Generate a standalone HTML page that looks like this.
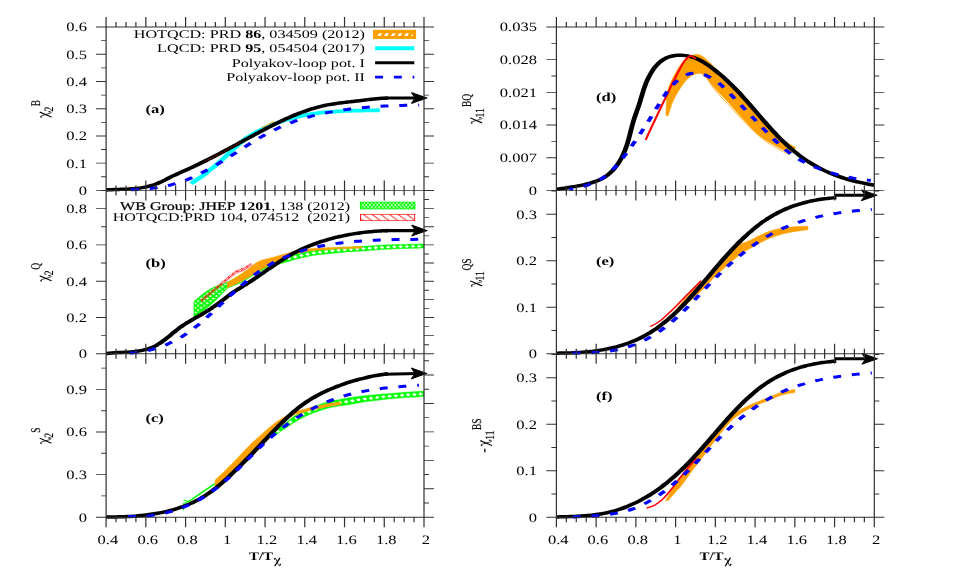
<!DOCTYPE html>
<html><head><meta charset="utf-8"><title>chart</title>
<style>
html,body{margin:0;padding:0;background:#fff;}
body{width:954px;height:572px;overflow:hidden;font-family:"Liberation Serif",serif;}
svg{display:block;opacity:0.999;will-change:opacity}
</style></head><body>
<svg width="954" height="572" viewBox="0 0 954 572">
<rect width="954" height="572" fill="#fff"/>
<defs>
<pattern id="gh" width="4.45" height="4.7" patternUnits="userSpaceOnUse"><rect width="4.45" height="4.7" fill="#fff"/><path d="M-1,-1.056L5.45,5.756M5.45,-1.056L-1,5.756M-1,3.644L1,5.756M3.45,-1.056L5.45,1.056M-1,1.056L1,-1.056M3.45,5.756L5.45,3.644" stroke="#00ff00" stroke-width="1.75"/></pattern>
<pattern id="gh2" width="2.66" height="4.1" patternUnits="userSpaceOnUse"><rect width="2.66" height="4.1" fill="#fff"/><path d="M-1,-1.541L3.66,5.641M3.66,-1.541L-1,5.641" stroke="#00ff00" stroke-width="0.95"/></pattern>
<pattern id="rh" width="6.35" height="6.35" patternUnits="userSpaceOnUse"><path d="M-1,-1L7.35,7.35M-7.35,-1L1,7.35M5.35,-1L13.7,7.35" stroke="#ff0000" stroke-width="0.75"/></pattern>
<pattern id="rh2" width="1.6" height="2" patternUnits="userSpaceOnUse"><path d="M0,0L1.6,2" stroke="#ff0000" stroke-width="0.55"/></pattern>
</defs>
<g transform="scale(1.370,1)">
<path d="M139.43,183.53C139.86,183.16 141.17,182.06 142.03,181.29C142.89,180.53 143.75,179.75 144.59,178.96C145.43,178.17 146.27,177.37 147.10,176.55C147.93,175.73 148.75,174.90 149.56,174.06C150.38,173.21 151.19,172.36 151.99,171.49C152.79,170.63 153.59,169.75 154.38,168.86C155.17,167.98 155.95,167.08 156.73,166.18C157.51,165.27 158.28,164.36 159.05,163.43C159.82,162.51 160.59,161.58 161.35,160.65C162.11,159.71 162.87,158.77 163.62,157.82C164.38,156.87 165.13,155.91 165.88,154.95C166.62,153.99 167.37,153.03 168.11,152.06C168.86,151.10 169.60,150.13 170.35,149.17C171.10,148.21 171.84,147.25 172.60,146.31C173.36,145.37 174.12,144.44 174.90,143.54C175.67,142.63 176.45,141.74 177.25,140.87C178.05,140.01 178.86,139.18 179.69,138.37C180.52,137.57 181.37,136.80 182.22,136.05C183.08,135.30 183.96,134.59 184.84,133.89C185.73,133.19 186.62,132.52 187.53,131.87C188.43,131.22 189.35,130.59 190.26,129.97C191.18,129.36 192.11,128.76 193.04,128.18C193.97,127.59 194.91,127.02 195.85,126.47C196.79,125.91 197.74,125.37 198.69,124.85C199.64,124.33 200.60,123.82 201.56,123.32C202.52,122.83 203.48,122.35 204.45,121.89C205.42,121.43 206.39,120.98 207.36,120.55C208.34,120.12 209.32,119.70 210.30,119.30C211.28,118.91 212.27,118.52 213.26,118.15C214.25,117.79 215.24,117.43 216.23,117.10C217.22,116.76 218.22,116.44 219.22,116.14C220.22,115.84 221.22,115.55 222.22,115.28C223.22,115.01 224.23,114.75 225.23,114.51C226.24,114.27 227.24,114.05 228.25,113.84C229.26,113.63 230.27,113.43 231.28,113.25C232.30,113.06 233.31,112.89 234.32,112.73C235.34,112.58 236.35,112.43 237.37,112.29C238.39,112.16 239.41,112.03 240.42,111.92C241.44,111.80 242.46,111.70 243.48,111.60C244.50,111.50 245.52,111.42 246.55,111.34C247.57,111.26 248.59,111.18 249.61,111.12C250.64,111.05 251.66,110.99 252.68,110.94C253.71,110.89 254.73,110.84 255.75,110.80C256.78,110.75 257.80,110.72 258.83,110.68C259.85,110.65 260.88,110.62 261.90,110.59C262.92,110.56 263.95,110.53 264.97,110.51C265.99,110.48 267.02,110.46 268.04,110.44C269.06,110.41 270.08,110.39 271.11,110.37C272.13,110.35 273.15,110.32 274.17,110.30C275.19,110.27 276.72,110.23 277.23,110.21" fill="none" stroke="#00ffff" stroke-width="3.80" stroke-linecap="butt" stroke-linejoin="round"/>
<path d="M191.24,127.60C192.70,126.57 198.54,122.43 200.00,121.40" fill="none" stroke="#ffa000" stroke-width="0.90" stroke-linecap="butt" stroke-linejoin="round"/>
<path d="M77.47,189.95C77.81,189.92 78.83,189.83 79.52,189.78C80.21,189.73 80.91,189.69 81.60,189.65C82.30,189.61 83.00,189.57 83.70,189.54C84.40,189.51 85.11,189.48 85.81,189.45C86.52,189.41 87.22,189.38 87.93,189.35C88.64,189.32 89.35,189.29 90.06,189.25C90.77,189.21 91.48,189.18 92.19,189.13C92.90,189.09 93.61,189.04 94.32,188.98C95.03,188.93 95.75,188.86 96.45,188.79C97.16,188.72 97.87,188.64 98.58,188.55C99.28,188.46 99.99,188.36 100.69,188.25C101.39,188.13 102.09,188.01 102.79,187.87C103.49,187.73 104.18,187.58 104.87,187.41C105.56,187.24 106.25,187.06 106.94,186.86C107.62,186.66 108.30,186.44 108.98,186.20C109.65,185.96 110.33,185.70 110.99,185.42C111.66,185.14 112.32,184.84 112.98,184.52C113.63,184.20 114.28,183.85 114.93,183.49C115.58,183.13 116.22,182.75 116.86,182.36C117.49,181.96 118.13,181.54 118.76,181.12C119.39,180.70 120.01,180.26 120.64,179.82C121.26,179.38 121.89,178.93 122.51,178.49C123.14,178.05 123.76,177.60 124.39,177.17C125.02,176.74 125.66,176.31 126.29,175.90C126.93,175.48 127.57,175.07 128.21,174.66C128.85,174.26 129.49,173.86 130.14,173.46C130.78,173.06 131.42,172.67 132.07,172.27C132.71,171.88 133.36,171.49 134.01,171.10C134.65,170.71 135.30,170.32 135.94,169.92C136.58,169.53 137.23,169.13 137.87,168.73C138.51,168.33 139.15,167.93 139.79,167.53C140.43,167.12 141.07,166.72 141.71,166.31C142.34,165.90 142.98,165.48 143.61,165.07C144.25,164.65 144.88,164.24 145.51,163.82C146.15,163.40 146.78,162.98 147.41,162.55C148.04,162.13 148.67,161.70 149.30,161.27C149.93,160.85 150.56,160.42 151.18,159.98C151.81,159.55 152.44,159.12 153.06,158.68C153.69,158.25 154.31,157.81 154.94,157.37C155.56,156.93 156.19,156.49 156.81,156.05C157.43,155.61 158.06,155.16 158.68,154.72C159.30,154.27 159.92,153.83 160.54,153.38C161.16,152.93 161.78,152.48 162.40,152.03C163.02,151.58 163.64,151.13 164.26,150.68C164.88,150.23 165.50,149.77 166.12,149.32C166.74,148.86 167.36,148.41 167.98,147.95C168.60,147.50 169.21,147.04 169.83,146.58C170.45,146.13 171.07,145.67 171.69,145.21C172.31,144.75 172.92,144.29 173.54,143.84C174.16,143.38 174.78,142.92 175.40,142.46C176.01,142.00 176.63,141.54 177.25,141.08C177.87,140.62 178.49,140.16 179.11,139.70C179.72,139.24 180.34,138.78 180.96,138.32C181.58,137.86 182.20,137.40 182.82,136.94C183.44,136.48 184.06,136.02 184.68,135.56C185.30,135.10 185.92,134.65 186.55,134.19C187.17,133.73 187.79,133.27 188.41,132.82C189.04,132.36 189.66,131.91 190.28,131.45C190.91,131.00 191.53,130.55 192.16,130.10C192.78,129.65 193.41,129.20 194.03,128.75C194.66,128.30 195.29,127.86 195.92,127.42C196.54,126.97 197.17,126.53 197.80,126.10C198.43,125.66 199.06,125.22 199.69,124.79C200.33,124.36 200.96,123.93 201.59,123.50C202.22,123.08 202.86,122.65 203.49,122.23C204.13,121.81 204.76,121.40 205.40,120.99C206.04,120.57 206.68,120.17 207.32,119.76C207.96,119.36 208.60,118.96 209.24,118.56C209.88,118.17 210.52,117.78 211.17,117.39C211.81,117.01 212.46,116.63 213.10,116.25C213.75,115.88 214.40,115.51 215.05,115.14C215.70,114.78 216.35,114.42 217.00,114.06C217.65,113.71 218.31,113.36 218.96,113.02C219.62,112.68 220.27,112.34 220.93,112.01C221.59,111.68 222.25,111.36 222.91,111.05C223.57,110.73 224.24,110.42 224.90,110.12C225.57,109.82 226.23,109.52 226.90,109.23C227.57,108.95 228.24,108.67 228.91,108.39C229.58,108.12 230.25,107.86 230.93,107.60C231.60,107.35 232.28,107.10 232.96,106.86C233.64,106.62 234.32,106.39 235.00,106.16C235.68,105.94 236.37,105.73 237.05,105.52C237.74,105.31 238.43,105.12 239.12,104.93C239.81,104.75 240.50,104.57 241.20,104.40C241.89,104.23 242.59,104.07 243.29,103.92C243.99,103.77 244.69,103.62 245.39,103.48C246.09,103.35 246.79,103.21 247.49,103.09C248.19,102.96 248.90,102.84 249.60,102.72C250.31,102.60 251.01,102.49 251.71,102.38C252.42,102.26 253.12,102.15 253.83,102.05C254.53,101.94 255.24,101.83 255.94,101.72C256.64,101.62 257.35,101.51 258.05,101.40C258.75,101.29 259.45,101.19 260.15,101.07C260.85,100.96 261.55,100.85 262.25,100.73C262.94,100.62 263.64,100.49 264.34,100.37C265.03,100.25 265.72,100.13 266.42,100.01C267.11,99.89 267.80,99.77 268.50,99.65C269.19,99.53 269.88,99.41 270.58,99.30C271.27,99.19 271.96,99.08 272.66,98.98C273.35,98.88 274.05,98.79 274.75,98.70C275.45,98.61 276.15,98.53 276.85,98.46C277.55,98.39 278.25,98.33 278.96,98.28C279.67,98.23 280.37,98.19 281.09,98.17C281.80,98.15 282.87,98.14 283.23,98.14" fill="none" stroke="#000" stroke-width="3.50" stroke-linecap="butt" stroke-linejoin="round"/>
<path d="M149.64,161.20C150.64,160.50 153.63,158.43 155.69,157.00C157.76,155.57 159.77,154.27 162.04,152.60C164.32,150.93 167.15,148.67 169.34,147.00C171.53,145.33 174.21,143.33 175.18,142.60" fill="none" stroke="#7a1500" stroke-width="1.30" stroke-linecap="butt" stroke-linejoin="round" stroke-dasharray="0.7,0.7" stroke-dashoffset="0.0"/>
<path d="M95.62,189.69C96.32,189.67 98.42,189.63 99.82,189.56C101.23,189.49 102.63,189.39 104.03,189.27C105.44,189.14 106.84,188.98 108.25,188.80C109.65,188.61 111.05,188.39 112.45,188.14C113.84,187.89 115.24,187.60 116.63,187.28C118.02,186.96 119.40,186.60 120.78,186.21C122.16,185.81 123.53,185.38 124.89,184.91C126.25,184.44 127.61,183.93 128.96,183.37C130.30,182.82 131.64,182.22 132.96,181.58C134.29,180.94 135.60,180.25 136.90,179.53C138.20,178.80 139.49,178.01 140.77,177.21C142.04,176.40 143.31,175.55 144.56,174.69C145.82,173.84 147.07,172.96 148.31,172.07C149.55,171.19 150.78,170.29 152.00,169.38C153.23,168.47 154.44,167.54 155.66,166.60C156.87,165.66 158.08,164.70 159.28,163.72C160.48,162.75 161.68,161.75 162.88,160.74C164.08,159.74 165.27,158.71 166.47,157.69C167.66,156.66 168.85,155.62 170.04,154.57C171.23,153.53 172.42,152.48 173.61,151.43C174.80,150.38 176.00,149.33 177.19,148.28C178.38,147.23 179.58,146.19 180.77,145.15C181.97,144.11 183.17,143.08 184.38,142.06C185.58,141.05 186.79,140.04 188.00,139.05C189.22,138.06 190.43,137.08 191.66,136.12C192.88,135.17 194.11,134.23 195.35,133.32C196.59,132.40 197.83,131.51 199.08,130.65C200.34,129.79 201.60,128.96 202.87,128.15C204.14,127.35 205.41,126.58 206.70,125.83C207.99,125.08 209.28,124.36 210.58,123.67C211.88,122.98 213.19,122.31 214.51,121.67C215.82,121.03 217.14,120.41 218.47,119.82C219.80,119.23 221.13,118.67 222.47,118.12C223.81,117.58 225.16,117.06 226.51,116.56C227.86,116.06 229.22,115.59 230.58,115.14C231.95,114.68 233.31,114.25 234.68,113.84C236.06,113.43 237.43,113.03 238.81,112.66C240.19,112.29 241.57,111.93 242.96,111.60C244.35,111.26 245.74,110.94 247.13,110.64C248.52,110.34 249.92,110.06 251.32,109.79C252.72,109.52 254.12,109.27 255.52,109.03C256.92,108.79 258.33,108.57 259.73,108.36C261.14,108.15 262.55,107.96 263.95,107.77C265.36,107.59 266.77,107.42 268.18,107.26C269.59,107.10 271.00,106.96 272.41,106.82C273.82,106.69 275.23,106.56 276.64,106.44C278.05,106.33 279.46,106.22 280.87,106.12C282.27,106.02 283.68,105.93 285.09,105.85C286.49,105.77 287.89,105.69 289.30,105.62C290.70,105.55 292.10,105.49 293.49,105.43C294.89,105.38 296.28,105.32 297.68,105.28C299.07,105.23 300.46,105.18 301.84,105.14C303.22,105.10 305.29,105.04 305.98,105.02" fill="none" stroke="#0000ff" stroke-width="3.00" stroke-linecap="butt" stroke-linejoin="round" stroke-dasharray="5.8,7.9" stroke-dashoffset="0.0"/>
<path d="M280.66,98.00L305.11,98.00" stroke="#000" stroke-width="3.10" fill="none"/>
<path transform="translate(311.90,98.00)" d="M-0.4,0L-11.4,-5.3L-8.6,0L-11.4,5.3Z" fill="#000" stroke="#000" stroke-width="1.0" stroke-linejoin="round"/>
<path d="M141.75,301.50C143.28,299.82 148.39,293.85 150.95,291.40C153.50,288.95 154.64,288.27 157.08,286.80C159.53,285.33 162.55,284.57 165.62,282.60C168.69,280.63 172.57,277.35 175.47,275.00C178.38,272.65 180.41,270.53 183.07,268.50C185.72,266.47 190.00,263.75 191.39,262.80L191.39,270.10C190.78,270.57 189.37,271.65 187.74,272.90C186.11,274.15 183.65,275.98 181.61,277.60C179.56,279.22 178.03,280.87 175.47,282.60C172.92,284.33 168.32,286.47 166.28,288.00C164.23,289.53 164.74,289.77 163.21,291.80C161.68,293.83 159.12,297.53 157.08,300.20C155.04,302.87 153.50,305.00 150.95,307.80C148.39,310.60 143.28,315.47 141.75,317.00Z" fill="url(#gh)" stroke="#00ff00" stroke-width="0.8"/>
<path d="M191.39,262.80C192.87,262.20 196.91,260.42 200.29,259.20C203.67,257.98 208.95,256.37 211.68,255.50C214.40,254.63 213.78,254.83 216.64,254.00C219.50,253.17 224.76,251.43 228.83,250.50C232.91,249.57 237.02,248.93 241.09,248.40C245.17,247.87 248.82,247.68 253.28,247.30C257.75,246.92 263.80,246.45 267.88,246.10C271.97,245.75 274.11,245.45 277.81,245.20C281.51,244.95 284.79,244.80 290.07,244.60C295.35,244.40 306.25,244.10 309.49,244.00L309.49,248.00C306.25,248.13 295.35,248.53 290.07,248.80C284.79,249.07 281.51,249.28 277.81,249.60C274.11,249.92 271.97,250.32 267.88,250.70C263.80,251.08 257.37,251.48 253.28,251.90C249.20,252.32 247.43,252.62 243.36,253.20C239.28,253.78 233.28,254.43 228.83,255.40C224.38,256.37 219.50,258.07 216.64,259.00C213.78,259.93 214.40,259.93 211.68,261.00C208.95,262.07 203.21,264.23 200.29,265.40C197.37,266.57 195.64,267.22 194.16,268.00C192.68,268.78 191.85,269.75 191.39,270.10Z" fill="#00ff00" stroke="#00ff00" stroke-width="0.4"/>
<path d="M191.24,265.60L192.85,264.10L194.45,265.60L192.85,267.10ZM195.77,263.51L197.37,262.01L198.98,263.51L197.37,265.01ZM200.29,261.73L201.90,260.23L203.50,261.73L201.90,263.23ZM204.82,260.12L206.42,258.62L208.03,260.12L206.42,261.62ZM209.34,258.51L210.95,257.01L212.55,258.51L210.95,260.01ZM213.87,256.91L215.47,255.41L217.08,256.91L215.47,258.41ZM218.39,255.52L220.00,254.02L221.61,255.52L220.00,257.02ZM222.92,254.20L224.53,252.70L226.13,254.20L224.53,255.70ZM227.45,252.91L229.05,251.41L230.66,252.91L229.05,254.41ZM231.97,252.18L233.58,250.68L235.18,252.18L233.58,253.68ZM236.50,251.45L238.10,249.95L239.71,251.45L238.10,252.95ZM241.02,250.79L242.63,249.29L244.23,250.79L242.63,252.29ZM245.55,250.28L247.15,248.78L248.76,250.28L247.15,251.78ZM250.07,249.78L251.68,248.33L253.28,249.78L251.68,251.22ZM254.60,249.36L256.20,247.93L257.81,249.36L256.20,250.79ZM259.12,248.99L260.73,247.56L262.34,248.99L260.73,250.41ZM263.65,248.62L265.26,247.19L266.86,248.62L265.26,250.04ZM268.18,248.21L269.78,246.79L271.39,248.21L269.78,249.62ZM272.70,247.75L274.31,246.37L275.91,247.75L274.31,249.14ZM277.23,247.34L278.83,245.98L280.44,247.34L278.83,248.70ZM281.75,247.08L283.36,245.75L284.96,247.08L283.36,248.42ZM286.28,246.82L287.88,245.51L289.49,246.82L287.88,248.14ZM290.80,246.62L292.41,245.32L294.01,246.62L292.41,247.91ZM295.33,246.45L296.93,245.17L298.54,246.45L296.93,247.73ZM299.85,246.29L301.46,245.02L303.07,246.29L301.46,247.56ZM304.38,246.13L305.99,244.88L307.59,246.13L305.99,247.38Z" fill="#fff" stroke="#fff" stroke-width="0.25"/>
<path d="M165.99,282.60C167.57,281.27 173.08,276.70 175.47,274.60C177.87,272.50 178.15,272.20 180.36,270.00C182.58,267.80 185.44,263.58 188.76,261.40C192.08,259.22 196.46,258.40 200.29,256.90C204.12,255.40 208.64,253.50 211.75,252.40C214.87,251.30 216.13,250.93 218.98,250.30C221.82,249.67 225.18,249.05 228.83,248.60C232.48,248.15 236.68,247.88 240.88,247.60C245.07,247.32 250.12,247.10 254.01,246.90C257.91,246.70 262.53,246.48 264.23,246.40L264.23,248.10C262.53,248.18 257.91,248.38 254.01,248.60C250.12,248.82 245.07,249.07 240.88,249.40C236.68,249.73 232.48,250.03 228.83,250.60C225.18,251.17 221.84,251.97 218.98,252.80C216.12,253.63 214.79,253.97 211.68,255.60C208.56,257.23 204.08,260.07 200.29,262.60C196.51,265.13 192.09,268.38 188.98,270.80C185.86,273.22 183.86,275.27 181.61,277.10C179.36,278.93 178.08,279.98 175.47,281.80C172.87,283.62 167.57,286.97 165.99,288.00Z" fill="#ffa000" stroke="#ffa000" stroke-width="0.4"/>
<path d="M146.64,299.60C148.88,297.03 155.92,288.90 160.07,284.20C164.22,279.50 168.76,273.95 171.53,271.40C174.31,268.85 174.77,270.27 176.72,268.90C178.66,267.53 182.13,264.15 183.21,263.20L183.65,265.60C182.62,266.52 179.34,269.77 177.45,271.10C175.55,272.43 175.04,271.05 172.26,273.60C169.49,276.15 164.94,281.72 160.80,286.40C156.67,291.08 149.67,299.15 147.45,301.70Z" fill="url(#rh2)" stroke="#ff5050" stroke-width="0.45"/>
<path d="M147.01,300.60C149.25,298.05 156.29,289.98 160.44,285.30C164.59,280.62 168.07,275.98 171.90,272.50C175.73,269.02 181.51,265.75 183.43,264.40" fill="none" stroke="#ff0000" stroke-width="1.30" stroke-linecap="butt" stroke-linejoin="round" stroke-dasharray="0.9,3.4" stroke-dashoffset="0.0"/>
<path d="M77.48,353.47C77.84,353.42 78.88,353.26 79.59,353.17C80.30,353.08 81.01,353.00 81.74,352.93C82.46,352.86 83.19,352.80 83.92,352.75C84.65,352.69 85.39,352.64 86.13,352.59C86.87,352.54 87.61,352.49 88.36,352.45C89.11,352.40 89.86,352.35 90.61,352.30C91.36,352.24 92.11,352.19 92.86,352.13C93.61,352.06 94.36,351.99 95.11,351.91C95.86,351.83 96.61,351.75 97.36,351.65C98.10,351.54 98.85,351.43 99.59,351.30C100.33,351.17 101.06,351.03 101.79,350.86C102.52,350.70 103.25,350.52 103.97,350.31C104.69,350.11 105.41,349.89 106.12,349.64C106.82,349.39 107.53,349.12 108.22,348.82C108.91,348.51 109.59,348.19 110.27,347.83C110.94,347.47 111.61,347.08 112.26,346.66C112.91,346.24 113.56,345.78 114.19,345.30C114.83,344.82 115.45,344.31 116.07,343.78C116.69,343.25 117.29,342.69 117.90,342.12C118.50,341.54 119.10,340.95 119.69,340.34C120.28,339.74 120.86,339.11 121.44,338.49C122.02,337.86 122.60,337.21 123.17,336.57C123.75,335.93 124.32,335.28 124.89,334.63C125.46,333.98 126.02,333.33 126.59,332.69C127.16,332.04 127.73,331.40 128.31,330.77C128.88,330.14 129.46,329.51 130.04,328.90C130.63,328.29 131.22,327.70 131.81,327.12C132.41,326.53 133.01,325.97 133.62,325.41C134.23,324.85 134.84,324.31 135.46,323.77C136.08,323.23 136.70,322.70 137.33,322.18C137.95,321.65 138.58,321.14 139.21,320.62C139.85,320.11 140.48,319.60 141.12,319.10C141.75,318.59 142.39,318.09 143.03,317.59C143.67,317.08 144.31,316.58 144.95,316.08C145.59,315.58 146.23,315.08 146.86,314.57C147.50,314.07 148.14,313.56 148.77,313.05C149.41,312.54 150.04,312.02 150.68,311.50C151.31,310.98 151.93,310.45 152.56,309.92C153.18,309.38 153.81,308.84 154.42,308.29C155.04,307.74 155.65,307.18 156.26,306.60C156.87,306.03 157.47,305.45 158.06,304.85C158.66,304.26 159.25,303.65 159.84,303.04C160.43,302.43 161.01,301.82 161.60,301.20C162.18,300.58 162.76,299.95 163.34,299.33C163.93,298.71 164.51,298.09 165.09,297.47C165.68,296.85 166.26,296.24 166.85,295.64C167.45,295.03 168.04,294.43 168.64,293.85C169.24,293.26 169.84,292.69 170.45,292.13C171.06,291.56 171.68,291.02 172.29,290.47C172.91,289.93 173.54,289.39 174.16,288.86C174.78,288.33 175.41,287.80 176.04,287.28C176.66,286.75 177.29,286.22 177.92,285.70C178.55,285.17 179.17,284.64 179.80,284.10C180.42,283.57 181.04,283.03 181.66,282.48C182.28,281.93 182.89,281.38 183.51,280.83C184.13,280.27 184.74,279.71 185.35,279.15C185.96,278.58 186.57,278.02 187.18,277.45C187.79,276.88 188.40,276.31 189.01,275.73C189.62,275.16 190.22,274.58 190.83,274.01C191.44,273.43 192.04,272.86 192.65,272.28C193.25,271.70 193.86,271.12 194.47,270.55C195.07,269.97 195.68,269.39 196.29,268.82C196.89,268.24 197.50,267.67 198.11,267.10C198.72,266.53 199.33,265.96 199.94,265.39C200.55,264.82 201.16,264.26 201.77,263.70C202.39,263.14 203.00,262.59 203.62,262.04C204.23,261.49 204.85,260.94 205.47,260.40C206.09,259.86 206.72,259.32 207.34,258.79C207.97,258.26 208.60,257.74 209.23,257.22C209.86,256.71 210.49,256.20 211.13,255.70C211.77,255.19 212.41,254.70 213.05,254.22C213.70,253.73 214.34,253.25 214.99,252.79C215.64,252.32 216.30,251.86 216.96,251.41C217.61,250.96 218.28,250.52 218.94,250.08C219.60,249.65 220.27,249.22 220.94,248.80C221.61,248.39 222.28,247.98 222.96,247.58C223.63,247.17 224.31,246.78 224.99,246.40C225.67,246.01 226.36,245.63 227.04,245.27C227.73,244.90 228.42,244.53 229.11,244.18C229.80,243.83 230.49,243.48 231.19,243.14C231.88,242.81 232.58,242.48 233.28,242.15C233.97,241.83 234.67,241.52 235.38,241.21C236.08,240.90 236.78,240.60 237.49,240.31C238.19,240.02 238.90,239.73 239.61,239.45C240.32,239.18 241.03,238.90 241.74,238.64C242.45,238.38 243.16,238.12 243.87,237.87C244.59,237.62 245.30,237.38 246.02,237.15C246.73,236.91 247.45,236.68 248.17,236.46C248.89,236.24 249.61,236.02 250.33,235.82C251.05,235.61 251.77,235.41 252.49,235.21C253.22,235.02 253.94,234.83 254.66,234.65C255.39,234.47 256.11,234.29 256.84,234.12C257.57,233.95 258.29,233.79 259.02,233.63C259.75,233.48 260.48,233.33 261.21,233.18C261.94,233.04 262.67,232.90 263.40,232.77C264.13,232.64 264.86,232.51 265.59,232.39C266.32,232.28 267.05,232.16 267.79,232.05C268.52,231.95 269.25,231.84 269.99,231.75C270.72,231.65 271.45,231.56 272.19,231.47C272.92,231.39 273.66,231.31 274.39,231.23C275.12,231.16 275.86,231.09 276.59,231.03C277.33,230.96 278.06,230.91 278.80,230.85C279.53,230.80 280.27,230.75 281.00,230.71C281.74,230.67 282.84,230.62 283.21,230.60" fill="none" stroke="#000" stroke-width="3.50" stroke-linecap="butt" stroke-linejoin="round"/>
<path d="M94.61,353.11C95.29,353.03 97.34,352.84 98.70,352.63C100.05,352.43 101.41,352.18 102.75,351.88C104.09,351.59 105.43,351.25 106.76,350.87C108.08,350.48 109.40,350.05 110.71,349.58C112.02,349.11 113.32,348.59 114.60,348.04C115.89,347.48 117.16,346.88 118.43,346.24C119.69,345.60 120.94,344.91 122.17,344.19C123.40,343.46 124.62,342.70 125.83,341.89C127.03,341.09 128.22,340.24 129.39,339.35C130.56,338.47 131.72,337.54 132.85,336.58C133.99,335.62 135.11,334.62 136.21,333.59C137.32,332.56 138.41,331.49 139.48,330.40C140.56,329.31 141.62,328.19 142.67,327.05C143.73,325.91 144.77,324.74 145.80,323.55C146.83,322.37 147.85,321.16 148.87,319.95C149.89,318.73 150.89,317.50 151.90,316.26C152.90,315.02 153.90,313.76 154.89,312.50C155.89,311.25 156.87,309.98 157.86,308.71C158.85,307.44 159.84,306.16 160.82,304.89C161.81,303.61 162.79,302.33 163.77,301.06C164.76,299.79 165.74,298.51 166.73,297.24C167.72,295.97 168.71,294.71 169.70,293.45C170.69,292.19 171.69,290.94 172.69,289.71C173.70,288.47 174.70,287.24 175.72,286.02C176.73,284.81 177.75,283.61 178.78,282.42C179.81,281.24 180.85,280.07 181.90,278.92C182.94,277.77 184.00,276.64 185.07,275.53C186.14,274.43 187.22,273.34 188.31,272.28C189.40,271.22 190.51,270.19 191.63,269.18C192.75,268.18 193.88,267.20 195.03,266.25C196.18,265.30 197.34,264.38 198.52,263.50C199.70,262.61 200.89,261.75 202.09,260.92C203.29,260.09 204.51,259.29 205.73,258.52C206.96,257.75 208.19,257.00 209.44,256.29C210.68,255.57 211.94,254.89 213.20,254.23C214.47,253.58 215.74,252.95 217.02,252.35C218.30,251.75 219.59,251.18 220.88,250.63C222.17,250.09 223.47,249.57 224.78,249.08C226.08,248.60 227.39,248.14 228.70,247.70C230.01,247.27 231.33,246.87 232.65,246.48C233.97,246.10 235.29,245.75 236.62,245.42C237.94,245.08 239.27,244.77 240.60,244.48C241.93,244.19 243.26,243.92 244.60,243.67C245.93,243.42 247.27,243.18 248.60,242.96C249.94,242.74 251.28,242.54 252.62,242.35C253.96,242.16 255.30,241.99 256.64,241.82C257.98,241.65 259.33,241.50 260.67,241.36C262.01,241.21 263.35,241.08 264.70,240.96C266.04,240.84 267.38,240.72 268.73,240.62C270.07,240.52 271.42,240.42 272.76,240.33C274.11,240.25 275.45,240.17 276.80,240.10C278.14,240.02 279.49,239.96 280.84,239.90C282.18,239.84 283.53,239.79 284.88,239.74C286.22,239.70 287.57,239.66 288.92,239.62C290.26,239.58 291.61,239.55 292.96,239.52C294.31,239.49 295.65,239.47 297.00,239.45C298.35,239.42 299.69,239.40 301.04,239.39C302.39,239.37 303.74,239.35 305.08,239.34C306.43,239.32 308.45,239.30 309.12,239.30" fill="none" stroke="#0000ff" stroke-width="3.00" stroke-linecap="butt" stroke-linejoin="round" stroke-dasharray="5.8,7.9" stroke-dashoffset="0.0"/>
<path d="M280.73,230.60L305.11,230.60" stroke="#000" stroke-width="3.10" fill="none"/>
<path transform="translate(312.12,230.60)" d="M-0.4,0L-11.4,-5.3L-8.6,0L-11.4,5.3Z" fill="#000" stroke="#000" stroke-width="1.0" stroke-linejoin="round"/>
<path d="M200.00,433.40C200.54,432.67 201.65,430.90 203.21,429.00C204.77,427.10 207.30,424.23 209.34,422.00C211.39,419.77 213.43,417.43 215.47,415.60C217.52,413.77 219.56,412.40 221.61,411.00C223.65,409.60 225.69,408.33 227.74,407.20C229.78,406.07 231.82,405.12 233.87,404.20C235.91,403.28 237.62,402.50 240.00,401.70C242.38,400.90 245.60,400.07 248.18,399.40C250.75,398.73 252.21,398.33 255.47,397.70C258.73,397.07 263.65,396.22 267.74,395.60C271.82,394.98 275.96,394.48 280.00,394.00C284.04,393.52 287.06,393.18 291.97,392.70C296.89,392.22 306.57,391.37 309.49,391.10L309.49,396.50C306.57,396.75 296.89,397.50 291.97,398.00C287.06,398.50 284.04,398.90 280.00,399.50C275.96,400.10 271.82,400.78 267.74,401.60C263.65,402.42 258.73,403.70 255.47,404.40C252.21,405.10 250.75,405.20 248.18,405.80C245.60,406.40 242.38,407.22 240.00,408.00C237.62,408.78 235.91,409.58 233.87,410.50C231.82,411.42 229.78,412.37 227.74,413.50C225.69,414.63 223.65,415.90 221.61,417.30C219.56,418.70 217.27,420.45 215.47,421.90C213.67,423.35 212.34,424.65 210.80,426.00C209.27,427.35 207.83,428.53 206.28,430.00C204.72,431.47 202.26,434.00 201.46,434.80Z" fill="#00ff00" stroke="#00ff00" stroke-width="0.4"/>
<path d="M201.31,431.37L202.92,430.15L204.53,431.37L202.92,432.60ZM205.84,426.57L207.45,425.08L209.05,426.57L207.45,428.06ZM210.36,422.12L211.97,420.62L213.58,422.12L211.97,423.62ZM214.89,417.98L216.50,416.48L218.10,417.98L216.50,419.48ZM219.42,414.59L221.02,413.09L222.63,414.59L221.02,416.09ZM223.94,411.71L225.55,410.21L227.15,411.71L225.55,413.21ZM228.47,409.21L230.07,407.71L231.68,409.21L230.07,410.71ZM232.99,407.05L234.60,405.55L236.20,407.05L234.60,408.55ZM237.52,405.21L239.12,403.71L240.73,405.21L239.12,406.71ZM242.04,403.85L243.65,402.35L245.26,403.85L243.65,405.35ZM246.57,402.60L248.18,401.10L249.78,402.60L248.18,404.10ZM251.09,401.64L252.70,400.14L254.31,401.64L252.70,403.14ZM255.62,400.70L257.23,399.20L258.83,400.70L257.23,402.20ZM260.15,399.80L261.75,398.30L263.36,399.80L261.75,401.30ZM264.67,398.89L266.28,397.39L267.88,398.89L266.28,400.39ZM269.20,398.14L270.80,396.64L272.41,398.14L270.80,399.64ZM273.72,397.45L275.33,395.95L276.93,397.45L275.33,398.95ZM278.25,396.77L279.85,395.27L281.46,396.77L279.85,398.27ZM282.77,396.24L284.38,394.74L285.99,396.24L284.38,397.74ZM287.30,395.71L288.91,394.21L290.51,395.71L288.91,397.21ZM291.82,395.22L293.43,393.72L295.04,395.22L293.43,396.72ZM296.35,394.82L297.96,393.32L299.56,394.82L297.96,396.32ZM300.88,394.42L302.48,392.92L304.09,394.42L302.48,395.92ZM305.40,394.02L307.01,392.52L308.61,394.02L307.01,395.52Z" fill="#fff" stroke="#fff" stroke-width="0.25"/>
<path d="M134.01,500.00L137.66,501.40L134.01,503.50L134.01,510.60" fill="none" stroke="#00ff00" stroke-width="0.9"/>
<path d="M137.66,501.60C139.05,500.30 142.74,496.83 145.99,493.80C149.23,490.77 155.29,485.13 157.15,483.40" fill="none" stroke="#00ff00" stroke-width="1.40" stroke-linecap="butt" stroke-linejoin="round"/>
<path d="M157.01,480.00C158.05,478.67 160.91,475.15 163.28,472.00C165.66,468.85 168.38,465.15 171.24,461.10C174.10,457.05 177.37,451.90 180.44,447.70C183.50,443.50 186.57,439.68 189.64,435.90C192.70,432.12 196.37,427.73 198.83,425.00C201.29,422.27 202.60,421.07 204.38,419.50C206.16,417.93 207.64,416.90 209.49,415.60C211.34,414.30 213.45,412.70 215.47,411.70C217.49,410.70 219.56,410.38 221.61,409.60C223.65,408.82 225.69,407.70 227.74,407.00C229.78,406.30 231.82,405.95 233.87,405.40C235.91,404.85 237.55,404.27 240.00,403.70C242.45,403.13 247.12,402.28 248.54,402.00L248.54,404.80C247.12,405.08 242.45,405.93 240.00,406.50C237.55,407.07 235.91,407.65 233.87,408.20C231.82,408.75 229.78,409.10 227.74,409.80C225.69,410.50 223.65,411.62 221.61,412.40C219.56,413.18 217.49,413.32 215.47,414.50C213.45,415.68 211.34,417.83 209.49,419.50C207.64,421.17 206.16,422.50 204.38,424.50C202.60,426.50 201.29,428.17 198.83,431.50C196.37,434.83 192.70,440.25 189.64,444.50C186.57,448.75 183.50,452.92 180.44,457.00C177.37,461.08 174.10,465.17 171.24,469.00C168.38,472.83 165.66,477.08 163.28,480.00C160.91,482.92 158.05,485.42 157.01,486.50Z" fill="#ffa000" stroke="#ffa000" stroke-width="0.4"/>
<path d="M77.52,516.93C77.92,516.93 79.14,516.94 79.96,516.94C80.78,516.94 81.60,516.93 82.42,516.92C83.25,516.91 84.07,516.90 84.90,516.88C85.73,516.86 86.56,516.83 87.39,516.80C88.23,516.77 89.06,516.74 89.90,516.70C90.74,516.66 91.57,516.61 92.41,516.56C93.25,516.50 94.09,516.44 94.94,516.38C95.78,516.31 96.62,516.24 97.46,516.16C98.31,516.08 99.15,515.99 100.00,515.89C100.84,515.80 101.68,515.69 102.53,515.58C103.37,515.47 104.22,515.35 105.06,515.22C105.90,515.09 106.75,514.95 107.59,514.81C108.43,514.66 109.27,514.51 110.12,514.34C110.96,514.17 111.79,514.00 112.63,513.81C113.47,513.63 114.31,513.43 115.14,513.23C115.97,513.02 116.81,512.80 117.64,512.58C118.47,512.35 119.29,512.11 120.12,511.86C120.95,511.61 121.77,511.35 122.59,511.07C123.41,510.80 124.22,510.51 125.04,510.21C125.85,509.91 126.66,509.60 127.47,509.28C128.27,508.95 129.08,508.62 129.88,508.27C130.67,507.92 131.47,507.55 132.26,507.17C133.05,506.80 133.84,506.40 134.62,506.00C135.40,505.59 136.17,505.17 136.95,504.74C137.72,504.30 138.48,503.85 139.24,503.38C140.00,502.92 140.76,502.44 141.51,501.94C142.26,501.44 143.00,500.93 143.74,500.40C144.48,499.87 145.21,499.33 145.94,498.76C146.66,498.20 147.38,497.62 148.09,497.03C148.80,496.43 149.51,495.82 150.21,495.19C150.91,494.57 151.60,493.93 152.29,493.28C152.98,492.62 153.66,491.95 154.34,491.28C155.02,490.60 155.69,489.90 156.36,489.20C157.02,488.50 157.68,487.79 158.34,487.06C159.00,486.34 159.65,485.61 160.30,484.86C160.95,484.12 161.59,483.37 162.23,482.61C162.87,481.86 163.50,481.09 164.13,480.32C164.76,479.55 165.39,478.77 166.02,477.99C166.64,477.20 167.26,476.41 167.88,475.62C168.49,474.83 169.11,474.03 169.72,473.24C170.33,472.44 170.94,471.64 171.54,470.83C172.15,470.03 172.75,469.22 173.35,468.42C173.95,467.61 174.55,466.80 175.15,465.99C175.74,465.17 176.34,464.36 176.93,463.54C177.52,462.73 178.11,461.91 178.70,461.09C179.29,460.27 179.87,459.45 180.46,458.63C181.04,457.81 181.63,456.98 182.21,456.16C182.79,455.33 183.37,454.51 183.95,453.68C184.53,452.85 185.11,452.02 185.69,451.19C186.27,450.37 186.85,449.54 187.43,448.70C188.01,447.87 188.58,447.04 189.16,446.21C189.74,445.38 190.32,444.55 190.89,443.72C191.47,442.88 192.05,442.05 192.63,441.22C193.21,440.39 193.78,439.56 194.36,438.72C194.94,437.89 195.52,437.06 196.10,436.23C196.68,435.40 197.26,434.56 197.85,433.73C198.43,432.90 199.01,432.07 199.60,431.24C200.18,430.42 200.77,429.59 201.36,428.76C201.94,427.93 202.53,427.11 203.13,426.28C203.72,425.46 204.31,424.64 204.91,423.83C205.51,423.01 206.11,422.20 206.71,421.39C207.31,420.58 207.92,419.78 208.53,418.98C209.14,418.19 209.75,417.40 210.37,416.61C210.99,415.83 211.61,415.05 212.24,414.29C212.86,413.52 213.49,412.76 214.13,412.01C214.77,411.26 215.41,410.52 216.05,409.79C216.70,409.06 217.35,408.34 218.01,407.63C218.67,406.92 219.33,406.22 220.00,405.54C220.68,404.85 221.35,404.18 222.04,403.52C222.72,402.86 223.41,402.22 224.11,401.59C224.81,400.95 225.51,400.34 226.22,399.73C226.93,399.12 227.65,398.53 228.37,397.95C229.09,397.37 229.82,396.80 230.55,396.24C231.28,395.68 232.02,395.14 232.76,394.60C233.51,394.07 234.25,393.55 235.01,393.04C235.76,392.53 236.51,392.03 237.27,391.54C238.04,391.05 238.80,390.57 239.57,390.10C240.34,389.63 241.11,389.17 241.89,388.73C242.66,388.28 243.44,387.84 244.22,387.41C245.00,386.98 245.79,386.57 246.58,386.16C247.36,385.75 248.15,385.35 248.95,384.95C249.74,384.56 250.53,384.18 251.33,383.81C252.13,383.44 252.93,383.07 253.73,382.72C254.53,382.36 255.34,382.01 256.14,381.68C256.95,381.34 257.75,381.01 258.56,380.69C259.37,380.37 260.18,380.06 261.00,379.76C261.81,379.46 262.62,379.16 263.44,378.88C264.25,378.59 265.07,378.32 265.89,378.05C266.70,377.78 267.52,377.52 268.34,377.27C269.16,377.02 269.98,376.77 270.80,376.54C271.62,376.30 272.45,376.08 273.27,375.86C274.09,375.64 274.91,375.44 275.74,375.24C276.56,375.04 277.39,374.85 278.21,374.67C279.04,374.49 279.87,374.32 280.69,374.16C281.52,374.01 282.76,373.79 283.18,373.72" fill="none" stroke="#000" stroke-width="3.50" stroke-linecap="butt" stroke-linejoin="round"/>
<path d="M93.38,516.47C94.07,516.49 96.11,516.60 97.48,516.61C98.85,516.61 100.22,516.58 101.58,516.52C102.95,516.45 104.32,516.34 105.68,516.19C107.05,516.05 108.41,515.87 109.77,515.64C111.13,515.42 112.48,515.16 113.83,514.86C115.18,514.56 116.53,514.22 117.87,513.85C119.21,513.47 120.54,513.06 121.86,512.60C123.19,512.15 124.51,511.66 125.81,511.13C127.12,510.60 128.42,510.03 129.70,509.42C130.99,508.81 132.26,508.16 133.53,507.48C134.79,506.79 136.04,506.07 137.28,505.31C138.51,504.55 139.74,503.75 140.95,502.91C142.16,502.08 143.35,501.21 144.54,500.31C145.72,499.40 146.89,498.47 148.05,497.50C149.20,496.53 150.34,495.53 151.47,494.51C152.60,493.48 153.71,492.42 154.81,491.34C155.91,490.26 156.99,489.14 158.06,488.01C159.13,486.88 160.18,485.71 161.23,484.54C162.27,483.36 163.31,482.15 164.33,480.93C165.35,479.72 166.36,478.48 167.37,477.23C168.37,475.97 169.37,474.71 170.36,473.43C171.35,472.15 172.33,470.86 173.31,469.56C174.29,468.26 175.26,466.95 176.24,465.64C177.21,464.33 178.17,463.00 179.14,461.68C180.11,460.36 181.08,459.04 182.05,457.72C183.01,456.39 183.98,455.07 184.95,453.75C185.93,452.43 186.90,451.12 187.88,449.81C188.86,448.50 189.84,447.20 190.83,445.91C191.82,444.62 192.81,443.34 193.82,442.07C194.82,440.80 195.83,439.55 196.85,438.31C197.87,437.07 198.91,435.85 199.95,434.65C200.99,433.44 202.04,432.26 203.10,431.09C204.17,429.92 205.24,428.77 206.32,427.64C207.40,426.51 208.50,425.40 209.60,424.31C210.70,423.22 211.81,422.15 212.93,421.10C214.06,420.05 215.19,419.03 216.33,418.02C217.47,417.01 218.62,416.03 219.78,415.07C220.94,414.10 222.11,413.16 223.28,412.25C224.46,411.33 225.65,410.44 226.84,409.57C228.04,408.70 229.24,407.85 230.46,407.03C231.67,406.21 232.89,405.42 234.12,404.65C235.35,403.88 236.59,403.14 237.84,402.42C239.09,401.70 240.34,401.01 241.61,400.35C242.87,399.68 244.14,399.04 245.42,398.44C246.70,397.83 247.99,397.25 249.29,396.69C250.58,396.14 251.89,395.62 253.20,395.12C254.51,394.63 255.83,394.16 257.15,393.72C258.48,393.28 259.81,392.86 261.14,392.47C262.48,392.07 263.82,391.70 265.16,391.35C266.51,391.00 267.85,390.68 269.21,390.37C270.56,390.06 271.91,389.77 273.27,389.50C274.63,389.22 275.99,388.97 277.35,388.73C278.71,388.49 280.07,388.27 281.43,388.06C282.79,387.84 284.15,387.65 285.51,387.46C286.87,387.27 288.23,387.10 289.59,386.93C290.95,386.76 292.31,386.61 293.66,386.45C295.01,386.30 296.37,386.16 297.71,386.02C299.06,385.88 300.40,385.75 301.74,385.62C303.08,385.49 305.08,385.30 305.74,385.23" fill="none" stroke="#0000ff" stroke-width="3.00" stroke-linecap="butt" stroke-linejoin="round" stroke-dasharray="5.8,7.9" stroke-dashoffset="0.0"/>
<path d="M280.66,374.20L305.11,373.50" stroke="#000" stroke-width="3.10" fill="none"/>
<path transform="translate(311.82,373.40)" d="M-0.4,0L-11.4,-5.3L-8.6,0L-11.4,5.3Z" fill="#000" stroke="#000" stroke-width="1.0" stroke-linejoin="round"/>
<path d="M486.13,115.50C486.31,111.57 486.18,98.72 487.23,91.90C488.27,85.08 490.40,79.85 492.41,74.60C494.42,69.35 497.17,63.55 499.27,60.40C501.37,57.25 503.11,56.62 505.04,55.70C506.96,54.78 508.70,53.85 510.80,54.90C512.91,55.95 515.21,58.98 517.66,62.00C520.12,65.02 521.72,67.75 525.55,73.00C529.38,78.25 535.79,86.55 540.66,93.50C545.52,100.45 550.15,107.58 554.74,114.70C559.34,121.82 563.89,130.70 568.25,136.20C572.60,141.70 578.77,145.78 580.88,147.70L576.64,153.40C575.24,152.40 572.00,150.37 568.25,147.40C564.50,144.43 558.76,140.77 554.16,135.60C549.56,130.43 544.64,122.25 540.66,116.40C536.68,110.55 533.55,105.37 530.29,100.50C527.03,95.63 523.77,91.38 521.09,87.20C518.42,83.02 516.34,77.63 514.23,75.40C512.13,73.17 510.38,73.42 508.47,73.80C506.56,74.18 504.68,75.47 502.77,77.70C500.86,79.93 498.93,83.27 497.01,87.20C495.09,91.13 492.77,96.58 491.24,101.30C489.71,106.02 488.38,113.13 487.81,115.50Z" fill="#ffa000" stroke="#ffa000" stroke-width="0.5"/>
<path d="M514.96,76.50C516.06,78.67 518.98,85.12 521.53,89.50C524.09,93.88 527.13,98.08 530.29,102.80C533.45,107.52 537.29,113.18 540.51,117.80C543.73,122.42 546.53,126.55 549.64,130.50C552.74,134.45 555.96,138.33 559.12,141.50C562.29,144.67 565.82,147.28 568.61,149.50C571.41,151.72 574.70,153.92 575.91,154.80" fill="none" stroke="#ffa000" stroke-width="0.60" stroke-linecap="butt" stroke-linejoin="round"/>
<path d="M406.14,189.22C406.61,189.14 408.04,188.91 408.99,188.75C409.94,188.58 410.88,188.41 411.82,188.24C412.76,188.06 413.70,187.88 414.63,187.68C415.57,187.49 416.50,187.29 417.43,187.07C418.36,186.86 419.29,186.64 420.22,186.40C421.15,186.16 422.08,185.92 423.01,185.65C423.94,185.39 424.87,185.11 425.80,184.82C426.73,184.53 427.67,184.22 428.60,183.89C429.53,183.56 430.47,183.22 431.40,182.84C432.33,182.47 433.26,182.07 434.17,181.64C435.08,181.20 435.98,180.74 436.86,180.22C437.74,179.71 438.61,179.16 439.45,178.56C440.28,177.95 441.10,177.29 441.88,176.59C442.66,175.88 443.41,175.11 444.14,174.31C444.87,173.50 445.56,172.64 446.24,171.75C446.91,170.85 447.55,169.91 448.17,168.94C448.79,167.97 449.39,166.95 449.95,165.91C450.52,164.87 451.07,163.79 451.58,162.69C452.10,161.59 452.60,160.46 453.07,159.32C453.54,158.17 453.98,156.99 454.41,155.81C454.83,154.63 455.23,153.42 455.61,152.21C455.99,150.99 456.34,149.77 456.68,148.54C457.01,147.31 457.32,146.07 457.62,144.83C457.92,143.59 458.19,142.34 458.46,141.09C458.73,139.84 458.98,138.59 459.22,137.34C459.47,136.08 459.70,134.83 459.94,133.57C460.18,132.32 460.41,131.06 460.64,129.80C460.88,128.55 461.11,127.29 461.36,126.04C461.60,124.78 461.85,123.53 462.11,122.28C462.38,121.03 462.65,119.78 462.94,118.54C463.23,117.29 463.55,116.05 463.86,114.82C464.18,113.58 464.52,112.35 464.84,111.11C465.16,109.88 465.50,108.65 465.81,107.42C466.12,106.19 466.41,104.96 466.70,103.73C466.99,102.50 467.26,101.26 467.53,100.03C467.80,98.80 468.06,97.57 468.33,96.33C468.59,95.10 468.86,93.86 469.14,92.63C469.42,91.40 469.70,90.16 470.00,88.92C470.30,87.69 470.61,86.45 470.95,85.22C471.29,83.98 471.65,82.74 472.03,81.51C472.41,80.29 472.82,79.06 473.25,77.86C473.68,76.66 474.13,75.47 474.61,74.31C475.09,73.15 475.59,72.01 476.13,70.92C476.66,69.82 477.22,68.75 477.80,67.73C478.39,66.71 479.01,65.72 479.65,64.80C480.30,63.87 480.97,62.99 481.67,62.18C482.38,61.37 483.11,60.61 483.88,59.93C484.65,59.24 485.45,58.62 486.28,58.09C487.12,57.55 487.99,57.09 488.88,56.71C489.77,56.33 490.70,56.03 491.64,55.79C492.57,55.56 493.54,55.40 494.50,55.32C495.47,55.23 496.45,55.21 497.42,55.26C498.40,55.31 499.38,55.43 500.35,55.60C501.32,55.78 502.29,56.03 503.24,56.33C504.18,56.63 505.12,57.00 506.03,57.42C506.94,57.83 507.83,58.32 508.70,58.83C509.57,59.35 510.43,59.93 511.27,60.53C512.11,61.13 512.93,61.78 513.74,62.45C514.55,63.12 515.35,63.83 516.14,64.55C516.93,65.27 517.71,66.01 518.48,66.77C519.25,67.52 520.02,68.29 520.77,69.07C521.53,69.85 522.28,70.65 523.02,71.46C523.76,72.27 524.49,73.09 525.22,73.92C525.95,74.76 526.67,75.60 527.38,76.46C528.09,77.31 528.80,78.18 529.50,79.06C530.20,79.94 530.90,80.82 531.58,81.72C532.27,82.62 532.96,83.52 533.63,84.43C534.31,85.35 534.98,86.27 535.65,87.20C536.32,88.13 536.98,89.06 537.64,90.00C538.30,90.95 538.95,91.90 539.60,92.85C540.25,93.80 540.90,94.76 541.54,95.73C542.18,96.69 542.82,97.66 543.46,98.63C544.09,99.60 544.72,100.58 545.36,101.56C545.99,102.54 546.61,103.52 547.24,104.51C547.87,105.49 548.49,106.48 549.12,107.46C549.74,108.45 550.37,109.44 550.99,110.43C551.61,111.42 552.23,112.41 552.86,113.40C553.48,114.39 554.10,115.38 554.72,116.37C555.35,117.35 555.97,118.34 556.60,119.33C557.22,120.31 557.85,121.29 558.48,122.27C559.11,123.25 559.74,124.23 560.37,125.20C561.00,126.17 561.64,127.14 562.28,128.11C562.91,129.07 563.56,130.03 564.20,130.99C564.85,131.94 565.50,132.89 566.15,133.84C566.80,134.78 567.46,135.72 568.12,136.65C568.78,137.58 569.45,138.50 570.12,139.42C570.80,140.33 571.48,141.24 572.16,142.14C572.84,143.04 573.53,143.93 574.23,144.81C574.93,145.69 575.63,146.56 576.34,147.42C577.05,148.28 577.77,149.13 578.50,149.97C579.23,150.81 579.96,151.63 580.70,152.45C581.44,153.26 582.19,154.07 582.95,154.86C583.71,155.65 584.48,156.43 585.26,157.19C586.03,157.96 586.82,158.71 587.61,159.45C588.40,160.18 589.20,160.91 590.01,161.62C590.82,162.33 591.63,163.02 592.45,163.70C593.27,164.38 594.10,165.05 594.93,165.70C595.77,166.35 596.61,166.99 597.45,167.61C598.30,168.23 599.15,168.83 600.00,169.42C600.86,170.00 601.72,170.58 602.59,171.13C603.46,171.68 604.33,172.22 605.20,172.74C606.08,173.26 606.96,173.77 607.84,174.25C608.72,174.74 609.61,175.21 610.50,175.65C611.39,176.10 612.29,176.53 613.18,176.95C614.08,177.36 614.98,177.76 615.88,178.14C616.79,178.53 617.69,178.89 618.60,179.25C619.51,179.60 620.43,179.94 621.34,180.27C622.26,180.60 623.18,180.91 624.10,181.22C625.02,181.53 625.94,181.82 626.87,182.11C627.79,182.39 628.72,182.67 629.66,182.94C630.59,183.21 631.52,183.47 632.46,183.72C633.39,183.98 634.33,184.23 635.28,184.47C636.22,184.72 637.63,185.08 638.11,185.20" fill="none" stroke="#000" stroke-width="3.50" stroke-linecap="butt" stroke-linejoin="round"/>
<path d="M471.39,140.00C471.92,138.33 471.86,138.02 474.60,130.00C477.34,121.98 484.27,101.92 487.81,91.90C491.35,81.88 493.73,75.27 495.84,69.90C497.94,64.53 499.00,62.03 500.44,59.70C501.87,57.37 503.21,56.03 504.45,55.90C505.69,55.77 507.31,58.40 507.88,58.90" fill="none" stroke="#ff0000" stroke-width="1.60" stroke-linecap="butt" stroke-linejoin="round"/>
<path d="M415.49,189.30C416.04,189.18 417.70,188.85 418.82,188.57C419.93,188.30 421.06,187.99 422.18,187.65C423.30,187.30 424.42,186.92 425.54,186.50C426.65,186.08 427.77,185.62 428.86,185.11C429.96,184.61 431.05,184.06 432.12,183.46C433.19,182.87 434.25,182.23 435.28,181.54C436.31,180.84 437.33,180.10 438.31,179.31C439.29,178.51 440.25,177.66 441.17,176.76C442.10,175.86 443.00,174.90 443.87,173.90C444.74,172.90 445.58,171.85 446.41,170.77C447.23,169.70 448.03,168.57 448.81,167.43C449.60,166.28 450.36,165.10 451.11,163.90C451.86,162.71 452.59,161.48 453.31,160.25C454.03,159.02 454.74,157.77 455.44,156.52C456.14,155.26 456.84,154.00 457.52,152.74C458.21,151.48 458.89,150.22 459.57,148.95C460.24,147.68 460.91,146.41 461.57,145.13C462.24,143.86 462.89,142.58 463.55,141.30C464.20,140.02 464.84,138.73 465.49,137.44C466.13,136.15 466.77,134.86 467.40,133.56C468.04,132.26 468.67,130.96 469.29,129.66C469.92,128.36 470.54,127.05 471.16,125.74C471.78,124.42 472.40,123.11 473.01,121.79C473.63,120.47 474.24,119.15 474.85,117.82C475.46,116.49 476.07,115.16 476.68,113.83C477.29,112.50 477.89,111.16 478.50,109.82C479.10,108.47 479.70,107.13 480.31,105.78C480.91,104.43 481.51,103.07 482.13,101.73C482.74,100.38 483.35,99.03 483.99,97.71C484.62,96.38 485.26,95.06 485.92,93.76C486.59,92.47 487.27,91.19 487.98,89.94C488.69,88.70 489.42,87.47 490.19,86.29C490.95,85.11 491.75,83.95 492.58,82.85C493.42,81.75 494.30,80.67 495.21,79.68C496.12,78.70 497.08,77.74 498.06,76.93C499.04,76.12 500.06,75.38 501.10,74.82C502.14,74.25 503.22,73.82 504.30,73.56C505.39,73.30 506.50,73.21 507.61,73.24C508.72,73.26 509.84,73.45 510.95,73.73C512.05,74.02 513.16,74.43 514.23,74.93C515.31,75.43 516.37,76.04 517.39,76.71C518.42,77.39 519.41,78.15 520.39,78.97C521.36,79.79 522.30,80.69 523.23,81.63C524.15,82.57 525.05,83.57 525.94,84.60C526.83,85.63 527.69,86.71 528.55,87.80C529.40,88.90 530.24,90.03 531.07,91.17C531.90,92.30 532.72,93.46 533.54,94.60C534.35,95.75 535.16,96.90 535.96,98.04C536.77,99.19 537.56,100.33 538.36,101.47C539.15,102.61 539.94,103.75 540.73,104.89C541.52,106.02 542.30,107.16 543.08,108.29C543.86,109.43 544.64,110.56 545.42,111.69C546.20,112.82 546.98,113.95 547.76,115.08C548.54,116.21 549.31,117.34 550.09,118.47C550.87,119.60 551.65,120.72 552.43,121.85C553.21,122.98 554.00,124.10 554.78,125.23C555.57,126.35 556.36,127.48 557.15,128.60C557.94,129.73 558.74,130.86 559.54,131.98C560.34,133.10 561.15,134.23 561.96,135.35C562.78,136.46 563.59,137.58 564.42,138.68C565.25,139.78 566.08,140.88 566.92,141.96C567.76,143.04 568.61,144.11 569.47,145.16C570.33,146.21 571.20,147.25 572.08,148.26C572.96,149.28 573.85,150.28 574.75,151.25C575.66,152.22 576.57,153.17 577.50,154.09C578.43,155.01 579.37,155.90 580.33,156.76C581.28,157.63 582.25,158.46 583.24,159.25C584.22,160.05 585.22,160.81 586.23,161.55C587.24,162.29 588.27,162.99 589.30,163.67C590.33,164.35 591.38,165.00 592.43,165.63C593.48,166.26 594.54,166.87 595.61,167.46C596.67,168.05 597.74,168.61 598.82,169.16C599.89,169.71 600.97,170.24 602.06,170.75C603.14,171.26 604.23,171.75 605.32,172.22C606.42,172.70 607.52,173.15 608.62,173.58C609.72,174.02 610.82,174.43 611.93,174.83C613.04,175.22 614.16,175.60 615.27,175.96C616.39,176.32 617.51,176.66 618.63,176.98C619.75,177.30 620.87,177.61 622.00,177.89C623.13,178.17 624.26,178.44 625.39,178.69C626.52,178.93 627.65,179.16 628.79,179.37C629.92,179.58 631.06,179.77 632.20,179.95C633.34,180.12 635.05,180.33 635.62,180.41" fill="none" stroke="#0000ff" stroke-width="3.00" stroke-linecap="butt" stroke-linejoin="round" stroke-dasharray="5.8,7.9" stroke-dashoffset="3.0"/>
<path d="M493.07,310.50C494.34,308.38 498.20,301.75 500.73,297.80C503.26,293.85 505.69,290.40 508.25,286.80C510.80,283.20 513.66,279.67 516.06,276.20C518.45,272.73 520.50,269.28 522.63,266.00C524.76,262.72 526.76,259.58 528.83,256.50C530.90,253.42 532.91,249.67 535.04,247.50C537.17,245.33 539.54,244.68 541.61,243.50C543.67,242.32 545.55,241.58 547.45,240.40C549.34,239.22 550.54,237.98 552.99,236.40C555.45,234.82 559.12,232.30 562.19,230.90C565.26,229.50 568.32,228.70 571.39,228.00C574.45,227.30 577.52,226.98 580.58,226.70C583.65,226.42 588.25,226.37 589.78,226.30L589.78,229.70C588.25,229.98 583.65,230.70 580.58,231.40C577.52,232.10 574.45,232.78 571.39,233.90C568.32,235.02 564.74,236.75 562.19,238.10C559.64,239.45 557.79,240.85 556.06,242.00C554.33,243.15 553.26,243.90 551.82,245.00C550.39,246.10 549.03,247.33 547.45,248.60C545.86,249.87 544.20,250.88 542.34,252.60C540.47,254.32 538.52,256.38 536.28,258.90C534.04,261.42 531.36,264.70 528.91,267.70C526.45,270.70 523.99,273.52 521.53,276.90C519.08,280.28 516.98,284.15 514.16,288.00C511.34,291.85 507.79,296.08 504.60,300.00C501.41,303.92 496.63,309.58 495.04,311.50Z" fill="#ffa000" stroke="#ffa000" stroke-width="0.4"/>
<path d="M474.60,326.60C475.64,325.82 478.81,323.88 480.88,321.90C482.94,319.92 485.17,316.95 487.01,314.70C488.84,312.45 489.85,311.18 491.90,308.40C493.94,305.62 496.95,301.23 499.27,298.00C501.59,294.77 503.77,291.88 505.84,289.00C507.91,286.12 510.71,282.08 511.68,280.70" fill="none" stroke="#ff0000" stroke-width="1.30" stroke-linecap="butt" stroke-linejoin="round"/>
<path d="M406.16,353.15C406.58,353.15 407.81,353.13 408.64,353.11C409.46,353.10 410.28,353.08 411.11,353.06C411.94,353.03 412.76,353.01 413.59,352.98C414.41,352.95 415.24,352.91 416.06,352.88C416.89,352.84 417.72,352.79 418.54,352.74C419.37,352.70 420.20,352.64 421.02,352.58C421.85,352.52 422.68,352.45 423.50,352.38C424.33,352.30 425.15,352.22 425.98,352.14C426.81,352.05 427.63,351.95 428.46,351.85C429.28,351.74 430.11,351.63 430.93,351.51C431.76,351.39 432.58,351.26 433.40,351.12C434.23,350.98 435.05,350.83 435.87,350.67C436.70,350.51 437.52,350.34 438.34,350.16C439.16,349.98 439.98,349.79 440.80,349.59C441.62,349.38 442.44,349.17 443.26,348.94C444.08,348.71 444.89,348.48 445.71,348.22C446.52,347.97 447.34,347.71 448.15,347.43C448.96,347.15 449.78,346.86 450.58,346.56C451.39,346.26 452.20,345.94 453.00,345.61C453.80,345.28 454.60,344.94 455.40,344.58C456.20,344.23 456.99,343.86 457.78,343.48C458.57,343.10 459.35,342.70 460.13,342.29C460.91,341.88 461.69,341.46 462.46,341.02C463.23,340.58 463.99,340.13 464.75,339.67C465.51,339.20 466.26,338.72 467.01,338.23C467.75,337.74 468.49,337.23 469.22,336.71C469.96,336.19 470.68,335.65 471.40,335.10C472.12,334.55 472.83,333.99 473.54,333.41C474.25,332.84 474.95,332.25 475.64,331.65C476.33,331.05 477.02,330.43 477.70,329.81C478.38,329.18 479.06,328.54 479.73,327.89C480.40,327.24 481.06,326.58 481.72,325.91C482.38,325.24 483.03,324.56 483.68,323.87C484.33,323.17 484.97,322.47 485.61,321.76C486.25,321.05 486.88,320.32 487.51,319.59C488.14,318.86 488.76,318.12 489.38,317.38C490.00,316.63 490.62,315.87 491.23,315.11C491.84,314.34 492.44,313.57 493.05,312.79C493.65,312.01 494.25,311.22 494.84,310.43C495.44,309.63 496.03,308.83 496.61,308.03C497.20,307.22 497.79,306.41 498.37,305.59C498.95,304.77 499.52,303.95 500.10,303.12C500.67,302.29 501.24,301.45 501.81,300.62C502.38,299.78 502.94,298.94 503.51,298.09C504.07,297.24 504.63,296.39 505.19,295.54C505.75,294.68 506.30,293.83 506.85,292.97C507.41,292.11 507.96,291.24 508.51,290.38C509.06,289.51 509.60,288.65 510.15,287.78C510.70,286.91 511.24,286.04 511.78,285.17C512.33,284.30 512.87,283.43 513.41,282.56C513.95,281.68 514.49,280.81 515.03,279.94C515.56,279.07 516.10,278.19 516.64,277.32C517.18,276.45 517.71,275.58 518.25,274.71C518.78,273.84 519.32,272.97 519.85,272.10C520.39,271.24 520.92,270.37 521.46,269.50C522.00,268.64 522.53,267.78 523.07,266.92C523.61,266.05 524.14,265.19 524.68,264.34C525.22,263.48 525.76,262.62 526.30,261.77C526.84,260.92 527.39,260.07 527.93,259.22C528.48,258.37 529.02,257.52 529.57,256.68C530.12,255.84 530.67,255.00 531.23,254.16C531.78,253.32 532.34,252.49 532.90,251.66C533.45,250.83 534.02,250.00 534.58,249.18C535.15,248.35 535.72,247.53 536.29,246.72C536.86,245.90 537.44,245.09 538.02,244.28C538.60,243.47 539.18,242.67 539.77,241.87C540.36,241.07 540.95,240.27 541.55,239.48C542.14,238.69 542.75,237.90 543.35,237.12C543.96,236.34 544.57,235.56 545.19,234.80C545.81,234.03 546.43,233.27 547.05,232.51C547.68,231.76 548.31,231.01 548.95,230.27C549.58,229.53 550.22,228.80 550.87,228.08C551.52,227.36 552.17,226.65 552.83,225.94C553.48,225.24 554.14,224.55 554.81,223.87C555.48,223.19 556.15,222.52 556.83,221.86C557.51,221.20 558.19,220.55 558.88,219.92C559.57,219.29 560.27,218.66 560.97,218.06C561.67,217.45 562.37,216.85 563.08,216.27C563.80,215.69 564.51,215.13 565.24,214.58C565.96,214.02 566.69,213.49 567.42,212.96C568.15,212.44 568.89,211.93 569.63,211.43C570.38,210.94 571.12,210.46 571.88,209.99C572.63,209.52 573.39,209.07 574.15,208.63C574.91,208.19 575.68,207.76 576.45,207.35C577.22,206.94 577.99,206.54 578.77,206.16C579.55,205.77 580.33,205.41 581.12,205.05C581.90,204.69 582.69,204.35 583.49,204.02C584.28,203.70 585.08,203.38 585.88,203.08C586.68,202.78 587.48,202.49 588.29,202.22C589.09,201.95 589.90,201.69 590.72,201.44C591.53,201.20 592.34,200.96 593.16,200.74C593.97,200.52 594.79,200.31 595.61,200.11C596.43,199.91 597.26,199.72 598.08,199.54C598.90,199.37 599.73,199.20 600.55,199.04C601.38,198.89 602.20,198.74 603.03,198.60C603.86,198.46 604.68,198.34 605.51,198.22C606.34,198.09 607.17,197.98 607.99,197.88C608.82,197.77 610.06,197.64 610.47,197.59" fill="none" stroke="#000" stroke-width="3.50" stroke-linecap="butt" stroke-linejoin="round"/>
<path d="M418.03,353.08C418.70,353.08 420.70,353.07 422.05,353.06C423.39,353.04 424.74,353.01 426.09,352.97C427.44,352.92 428.80,352.87 430.15,352.79C431.51,352.72 432.86,352.63 434.22,352.51C435.57,352.39 436.93,352.25 438.28,352.09C439.63,351.92 440.98,351.73 442.32,351.50C443.67,351.28 445.01,351.03 446.34,350.73C447.68,350.44 449.01,350.12 450.33,349.75C451.66,349.39 452.97,348.98 454.28,348.53C455.59,348.08 456.89,347.59 458.18,347.05C459.46,346.51 460.74,345.92 462.01,345.28C463.28,344.65 464.53,343.96 465.78,343.23C467.02,342.50 468.25,341.72 469.47,340.90C470.68,340.09 471.89,339.23 473.08,338.33C474.27,337.44 475.44,336.50 476.60,335.54C477.76,334.57 478.90,333.57 480.02,332.54C481.15,331.52 482.26,330.46 483.35,329.37C484.44,328.29 485.52,327.18 486.58,326.04C487.64,324.91 488.68,323.75 489.71,322.57C490.74,321.40 491.76,320.20 492.77,318.98C493.77,317.76 494.77,316.52 495.75,315.27C496.74,314.02 497.71,312.75 498.68,311.47C499.65,310.19 500.60,308.89 501.56,307.59C502.51,306.28 503.45,304.96 504.39,303.64C505.34,302.32 506.27,300.98 507.21,299.64C508.14,298.31 509.07,296.96 510.00,295.61C510.93,294.27 511.86,292.92 512.79,291.57C513.72,290.22 514.65,288.86 515.58,287.51C516.51,286.17 517.45,284.82 518.38,283.47C519.32,282.13 520.27,280.79 521.22,279.46C522.16,278.13 523.12,276.81 524.08,275.49C525.04,274.18 526.01,272.88 526.99,271.58C527.97,270.29 528.95,269.00 529.94,267.73C530.93,266.46 531.93,265.20 532.94,263.96C533.95,262.71 534.96,261.48 535.99,260.26C537.01,259.05 538.04,257.84 539.08,256.66C540.12,255.47 541.17,254.30 542.23,253.15C543.28,252.00 544.35,250.86 545.43,249.75C546.50,248.63 547.58,247.54 548.68,246.46C549.77,245.38 550.88,244.33 551.99,243.29C553.10,242.26 554.22,241.25 555.35,240.26C556.49,239.27 557.63,238.31 558.78,237.36C559.93,236.42 561.10,235.51 562.27,234.62C563.44,233.73 564.62,232.86 565.82,232.02C567.01,231.19 568.22,230.38 569.43,229.59C570.65,228.81 571.88,228.06 573.11,227.34C574.35,226.61 575.60,225.92 576.85,225.25C578.11,224.58 579.38,223.93 580.65,223.32C581.92,222.70 583.21,222.11 584.50,221.54C585.78,220.97 587.08,220.43 588.39,219.91C589.69,219.39 591.00,218.90 592.31,218.42C593.63,217.95 594.95,217.50 596.27,217.07C597.60,216.64 598.93,216.23 600.26,215.85C601.59,215.46 602.93,215.09 604.27,214.74C605.60,214.39 606.95,214.07 608.29,213.75C609.63,213.44 610.97,213.15 612.32,212.88C613.66,212.60 615.01,212.34 616.35,212.10C617.70,211.85 619.04,211.63 620.39,211.42C621.73,211.20 623.07,211.01 624.41,210.82C625.75,210.64 627.09,210.47 628.42,210.31C629.76,210.15 631.09,210.01 632.41,209.88C633.74,209.74 635.72,209.57 636.38,209.51" fill="none" stroke="#0000ff" stroke-width="3.00" stroke-linecap="butt" stroke-linejoin="round" stroke-dasharray="5.8,7.9" stroke-dashoffset="0.0"/>
<path d="M609.12,195.20L633.58,195.20" stroke="#000" stroke-width="3.10" fill="none"/>
<path transform="translate(640.36,195.20)" d="M-0.4,0L-11.4,-5.3L-8.6,0L-11.4,5.3Z" fill="#000" stroke="#000" stroke-width="1.0" stroke-linejoin="round"/>
<path d="M485.77,500.50C487.00,497.75 491.37,487.55 493.14,484.00C494.90,480.45 494.60,483.17 496.35,479.20C498.10,475.23 500.94,465.62 503.65,460.20C506.36,454.78 509.95,450.83 512.63,446.70C515.30,442.57 517.51,438.90 519.71,435.40C521.91,431.90 523.80,428.90 525.84,425.70C527.88,422.50 530.13,418.38 531.97,416.20C533.81,414.02 534.28,414.47 536.86,412.60C539.44,410.73 543.22,407.63 547.45,405.00C551.67,402.37 558.20,399.00 562.19,396.80C566.18,394.60 568.37,393.03 571.39,391.80C574.40,390.57 578.81,389.80 580.29,389.40L580.29,392.60C578.81,392.97 574.40,393.60 571.39,394.80C568.37,396.00 566.20,397.53 562.19,399.80C558.18,402.07 551.31,405.70 547.30,408.40C543.28,411.10 540.66,413.48 538.10,416.00C535.55,418.52 534.01,420.57 531.97,423.50C529.93,426.43 528.19,429.52 525.84,433.60C523.49,437.68 520.12,443.93 517.88,448.00C515.64,452.07 514.54,454.17 512.41,458.00C510.28,461.83 507.66,466.30 505.11,471.00C502.55,475.70 499.03,482.78 497.08,486.20C495.13,489.62 494.96,489.12 493.43,491.50C491.90,493.88 488.81,499.00 487.88,500.50Z" fill="#ffa000" stroke="#ffa000" stroke-width="0.4"/>
<path d="M471.97,508.10C472.94,507.62 475.82,506.73 477.81,505.20C479.81,503.67 482.10,501.22 483.94,498.90C485.78,496.58 487.30,493.82 488.83,491.30C490.36,488.78 491.89,486.03 493.14,483.80C494.39,481.57 494.70,480.75 496.35,477.90C498.00,475.05 501.08,469.95 503.07,466.70C505.05,463.45 507.38,459.78 508.25,458.40" fill="none" stroke="#ff0000" stroke-width="1.30" stroke-linecap="butt" stroke-linejoin="round"/>
<path d="M406.12,516.95C406.56,516.94 407.85,516.89 408.71,516.86C409.58,516.83 410.44,516.80 411.30,516.77C412.16,516.74 413.02,516.71 413.87,516.68C414.73,516.64 415.59,516.61 416.44,516.57C417.30,516.53 418.15,516.49 419.01,516.44C419.86,516.39 420.71,516.34 421.56,516.29C422.41,516.23 423.26,516.17 424.11,516.09C424.96,516.02 425.81,515.95 426.66,515.86C427.50,515.77 428.35,515.68 429.19,515.57C430.04,515.47 430.88,515.35 431.72,515.23C432.57,515.10 433.41,514.96 434.25,514.81C435.09,514.67 435.93,514.50 436.76,514.33C437.60,514.15 438.44,513.97 439.28,513.76C440.11,513.56 440.95,513.34 441.78,513.10C442.61,512.87 443.45,512.62 444.28,512.35C445.11,512.08 445.94,511.79 446.77,511.49C447.60,511.19 448.43,510.87 449.25,510.53C450.08,510.20 450.90,509.85 451.72,509.48C452.54,509.11 453.36,508.73 454.17,508.33C454.99,507.93 455.80,507.52 456.61,507.09C457.41,506.67 458.22,506.22 459.02,505.77C459.82,505.31 460.61,504.84 461.40,504.36C462.19,503.88 462.98,503.38 463.76,502.88C464.54,502.37 465.31,501.85 466.08,501.31C466.85,500.78 467.61,500.23 468.37,499.68C469.12,499.12 469.87,498.55 470.61,497.97C471.36,497.39 472.09,496.80 472.82,496.20C473.55,495.60 474.28,494.99 475.00,494.36C475.71,493.74 476.43,493.11 477.13,492.47C477.84,491.82 478.54,491.17 479.23,490.51C479.93,489.84 480.62,489.17 481.30,488.49C481.99,487.81 482.67,487.12 483.34,486.42C484.02,485.72 484.69,485.01 485.35,484.30C486.01,483.58 486.67,482.86 487.33,482.12C487.98,481.39 488.63,480.65 489.28,479.90C489.93,479.15 490.57,478.40 491.21,477.63C491.84,476.87 492.48,476.10 493.11,475.32C493.74,474.55 494.36,473.76 494.98,472.97C495.61,472.18 496.22,471.38 496.84,470.58C497.45,469.78 498.06,468.97 498.67,468.15C499.28,467.34 499.89,466.52 500.49,465.69C501.09,464.87 501.69,464.03 502.29,463.20C502.88,462.36 503.48,461.52 504.07,460.68C504.66,459.83 505.25,458.98 505.83,458.13C506.42,457.27 507.00,456.41 507.58,455.55C508.17,454.69 508.75,453.83 509.32,452.96C509.90,452.09 510.48,451.22 511.05,450.34C511.63,449.47 512.20,448.59 512.77,447.71C513.34,446.83 513.91,445.94 514.48,445.06C515.05,444.17 515.62,443.28 516.18,442.39C516.75,441.50 517.32,440.61 517.88,439.72C518.45,438.83 519.01,437.93 519.58,437.04C520.14,436.14 520.70,435.25 521.27,434.35C521.83,433.46 522.39,432.56 522.96,431.66C523.52,430.77 524.08,429.87 524.65,428.97C525.21,428.08 525.78,427.18 526.34,426.29C526.91,425.40 527.47,424.51 528.04,423.62C528.61,422.73 529.18,421.84 529.75,420.95C530.32,420.07 530.89,419.19 531.46,418.31C532.04,417.43 532.61,416.55 533.19,415.68C533.77,414.81 534.35,413.94 534.93,413.08C535.51,412.21 536.09,411.36 536.68,410.50C537.27,409.65 537.86,408.80 538.45,407.96C539.05,407.11 539.64,406.28 540.24,405.45C540.84,404.62 541.44,403.79 542.05,402.97C542.66,402.16 543.27,401.34 543.88,400.54C544.50,399.74 545.12,398.94 545.74,398.16C546.37,397.37 546.99,396.59 547.63,395.82C548.26,395.05 548.90,394.29 549.54,393.54C550.18,392.79 550.83,392.04 551.48,391.31C552.14,390.58 552.79,389.86 553.46,389.14C554.12,388.43 554.79,387.73 555.47,387.04C556.14,386.35 556.83,385.67 557.52,385.01C558.20,384.34 558.90,383.68 559.60,383.04C560.30,382.40 561.01,381.77 561.73,381.15C562.44,380.54 563.16,379.93 563.89,379.34C564.62,378.75 565.36,378.18 566.11,377.62C566.85,377.05 567.61,376.51 568.37,375.97C569.13,375.44 569.90,374.92 570.67,374.42C571.45,373.92 572.23,373.43 573.02,372.96C573.81,372.48 574.61,372.03 575.41,371.58C576.21,371.14 577.02,370.71 577.83,370.30C578.64,369.88 579.46,369.48 580.28,369.10C581.10,368.71 581.92,368.34 582.75,367.99C583.58,367.63 584.41,367.29 585.24,366.96C586.07,366.63 586.91,366.32 587.75,366.02C588.58,365.73 589.42,365.44 590.26,365.17C591.10,364.90 591.94,364.65 592.78,364.41C593.62,364.17 594.46,363.94 595.30,363.73C596.14,363.52 596.98,363.32 597.82,363.13C598.66,362.94 599.50,362.76 600.34,362.59C601.17,362.42 602.01,362.27 602.85,362.12C603.69,361.97 604.53,361.83 605.36,361.69C606.20,361.55 607.04,361.43 607.87,361.30C608.71,361.18 609.96,361.01 610.37,360.95" fill="none" stroke="#000" stroke-width="3.50" stroke-linecap="butt" stroke-linejoin="round"/>
<path d="M418.02,516.92C418.69,516.87 420.68,516.73 422.02,516.65C423.35,516.56 424.70,516.48 426.05,516.39C427.40,516.30 428.76,516.21 430.11,516.11C431.47,516.01 432.83,515.90 434.19,515.77C435.55,515.64 436.91,515.51 438.27,515.34C439.62,515.18 440.98,515.00 442.34,514.79C443.69,514.57 445.04,514.34 446.38,514.07C447.72,513.79 449.06,513.49 450.39,513.15C451.72,512.80 453.04,512.42 454.35,511.99C455.66,511.56 456.96,511.10 458.24,510.57C459.53,510.05 460.81,509.47 462.07,508.84C463.33,508.22 464.57,507.53 465.81,506.81C467.04,506.08 468.26,505.30 469.47,504.49C470.67,503.67 471.87,502.81 473.05,501.91C474.23,501.02 475.39,500.08 476.54,499.11C477.70,498.14 478.84,497.14 479.96,496.11C481.09,495.08 482.20,494.01 483.30,492.93C484.40,491.85 485.48,490.74 486.56,489.61C487.63,488.48 488.69,487.32 489.74,486.15C490.79,484.97 491.83,483.78 492.86,482.56C493.88,481.35 494.90,480.12 495.91,478.88C496.91,477.63 497.91,476.37 498.90,475.10C499.88,473.82 500.86,472.53 501.83,471.23C502.80,469.94 503.76,468.63 504.71,467.31C505.66,465.99 506.60,464.66 507.54,463.33C508.48,462.00 509.41,460.66 510.33,459.32C511.26,457.98 512.18,456.63 513.10,455.28C514.01,453.94 514.93,452.58 515.85,451.24C516.77,449.89 517.68,448.54 518.60,447.20C519.53,445.86 520.45,444.51 521.38,443.18C522.32,441.85 523.25,440.51 524.20,439.19C525.15,437.87 526.10,436.56 527.07,435.26C528.03,433.95 529.00,432.66 529.98,431.37C530.97,430.09 531.96,428.82 532.95,427.56C533.95,426.30 534.96,425.05 535.98,423.82C536.99,422.59 538.02,421.37 539.05,420.17C540.09,418.97 541.13,417.78 542.18,416.61C543.24,415.44 544.30,414.29 545.37,413.16C546.44,412.03 547.53,410.92 548.62,409.83C549.71,408.74 550.81,407.67 551.92,406.62C553.03,405.57 554.16,404.55 555.29,403.55C556.42,402.55 557.56,401.57 558.72,400.62C559.87,399.67 561.03,398.75 562.21,397.85C563.38,396.95 564.57,396.08 565.76,395.24C566.96,394.41 568.16,393.59 569.38,392.81C570.60,392.04 571.83,391.29 573.07,390.57C574.31,389.85 575.56,389.16 576.81,388.50C578.07,387.84 579.34,387.21 580.62,386.60C581.89,385.99 583.18,385.42 584.47,384.86C585.76,384.31 587.06,383.78 588.36,383.28C589.67,382.77 590.98,382.29 592.30,381.83C593.61,381.38 594.94,380.94 596.26,380.53C597.59,380.11 598.92,379.72 600.26,379.34C601.59,378.97 602.93,378.61 604.27,378.28C605.61,377.94 606.95,377.62 608.29,377.32C609.64,377.02 610.98,376.73 612.33,376.46C613.67,376.19 615.02,375.94 616.36,375.69C617.71,375.45 619.06,375.22 620.40,375.01C621.74,374.79 623.08,374.59 624.42,374.39C625.76,374.20 627.10,374.02 628.43,373.84C629.76,373.67 631.09,373.51 632.42,373.35C633.74,373.19 635.72,372.98 636.38,372.90" fill="none" stroke="#0000ff" stroke-width="3.00" stroke-linecap="butt" stroke-linejoin="round" stroke-dasharray="5.8,7.9" stroke-dashoffset="0.0"/>
<path d="M609.12,358.70L633.58,358.70" stroke="#000" stroke-width="3.10" fill="none"/>
<path transform="translate(640.73,358.70)" d="M-0.4,0L-11.4,-5.3L-8.6,0L-11.4,5.3Z" fill="#000" stroke="#000" stroke-width="1.0" stroke-linejoin="round"/>
<g stroke="#303030" stroke-width="0.88" fill="none">
<path d="M77.45,17.0V527.2M309.49,17.0V527.2M70.15,27.0H316.79M70.15,190.4H316.79M70.15,353.8H316.79M70.15,517.2H316.79M77.45,17.0V27.0M77.45,180.4V200.4M77.45,343.8V363.8M77.45,517.2V527.2M84.70,22.0V27.0M84.70,185.4V195.4M84.70,348.8V358.8M84.70,517.2V522.2M91.95,22.0V27.0M91.95,185.4V195.4M91.95,348.8V358.8M91.95,517.2V522.2M99.20,22.0V27.0M99.20,185.4V195.4M99.20,348.8V358.8M99.20,517.2V522.2M106.45,17.0V27.0M106.45,180.4V200.4M106.45,343.8V363.8M106.45,517.2V527.2M113.70,22.0V27.0M113.70,185.4V195.4M113.70,348.8V358.8M113.70,517.2V522.2M120.95,22.0V27.0M120.95,185.4V195.4M120.95,348.8V358.8M120.95,517.2V522.2M128.20,22.0V27.0M128.20,185.4V195.4M128.20,348.8V358.8M128.20,517.2V522.2M135.46,17.0V27.0M135.46,180.4V200.4M135.46,343.8V363.8M135.46,517.2V527.2M142.71,22.0V27.0M142.71,185.4V195.4M142.71,348.8V358.8M142.71,517.2V522.2M149.96,22.0V27.0M149.96,185.4V195.4M149.96,348.8V358.8M149.96,517.2V522.2M157.21,22.0V27.0M157.21,185.4V195.4M157.21,348.8V358.8M157.21,517.2V522.2M164.46,17.0V27.0M164.46,180.4V200.4M164.46,343.8V363.8M164.46,517.2V527.2M171.71,22.0V27.0M171.71,185.4V195.4M171.71,348.8V358.8M171.71,517.2V522.2M178.96,22.0V27.0M178.96,185.4V195.4M178.96,348.8V358.8M178.96,517.2V522.2M186.22,22.0V27.0M186.22,185.4V195.4M186.22,348.8V358.8M186.22,517.2V522.2M193.47,17.0V27.0M193.47,180.4V200.4M193.47,343.8V363.8M193.47,517.2V527.2M200.72,22.0V27.0M200.72,185.4V195.4M200.72,348.8V358.8M200.72,517.2V522.2M207.97,22.0V27.0M207.97,185.4V195.4M207.97,348.8V358.8M207.97,517.2V522.2M215.22,22.0V27.0M215.22,185.4V195.4M215.22,348.8V358.8M215.22,517.2V522.2M222.47,17.0V27.0M222.47,180.4V200.4M222.47,343.8V363.8M222.47,517.2V527.2M229.72,22.0V27.0M229.72,185.4V195.4M229.72,348.8V358.8M229.72,517.2V522.2M236.98,22.0V27.0M236.98,185.4V195.4M236.98,348.8V358.8M236.98,517.2V522.2M244.23,22.0V27.0M244.23,185.4V195.4M244.23,348.8V358.8M244.23,517.2V522.2M251.48,17.0V27.0M251.48,180.4V200.4M251.48,343.8V363.8M251.48,517.2V527.2M258.73,22.0V27.0M258.73,185.4V195.4M258.73,348.8V358.8M258.73,517.2V522.2M265.98,22.0V27.0M265.98,185.4V195.4M265.98,348.8V358.8M265.98,517.2V522.2M273.23,22.0V27.0M273.23,185.4V195.4M273.23,348.8V358.8M273.23,517.2V522.2M280.48,17.0V27.0M280.48,180.4V200.4M280.48,343.8V363.8M280.48,517.2V527.2M287.73,22.0V27.0M287.73,185.4V195.4M287.73,348.8V358.8M287.73,517.2V522.2M294.99,22.0V27.0M294.99,185.4V195.4M294.99,348.8V358.8M294.99,517.2V522.2M302.24,22.0V27.0M302.24,185.4V195.4M302.24,348.8V358.8M302.24,517.2V522.2M309.49,17.0V27.0M309.49,180.4V200.4M309.49,343.8V363.8M309.49,517.2V527.2M70.15,190.40H77.45M73.80,176.78H77.45M70.15,163.17H77.45M73.80,149.56H77.45M70.15,135.94H77.45M73.80,122.33H77.45M70.15,108.71H77.45M73.80,95.09H77.45M70.15,81.48H77.45M73.80,67.87H77.45M70.15,54.25H77.45M73.80,40.63H77.45M70.15,27.02H77.45M309.49,190.40H316.79M309.49,176.78H313.14M309.49,163.17H316.79M309.49,149.56H313.14M309.49,135.94H316.79M309.49,122.33H313.14M309.49,108.71H316.79M309.49,95.09H313.14M309.49,81.48H316.79M309.49,67.87H313.14M309.49,54.25H316.79M309.49,40.63H313.14M309.49,27.02H316.79M70.15,353.80H77.45M73.80,335.65H77.45M70.15,317.50H77.45M73.80,299.35H77.45M70.15,281.20H77.45M73.80,263.05H77.45M70.15,244.90H77.45M73.80,226.75H77.45M70.15,208.60H77.45M73.80,190.45H77.45M309.49,353.80H316.79M309.49,344.73H313.14M309.49,335.65H316.79M309.49,326.57H313.14M309.49,317.50H316.79M309.49,308.43H313.14M309.49,299.35H316.79M309.49,290.28H313.14M309.49,281.20H316.79M309.49,272.12H313.14M309.49,263.05H316.79M309.49,253.98H313.14M309.49,244.90H316.79M309.49,235.83H313.14M309.49,226.75H316.79M309.49,217.68H313.14M309.49,208.60H316.79M309.49,199.53H313.14M309.49,190.45H316.79M70.15,517.20H77.45M73.80,495.90H77.45M70.15,474.60H77.45M73.80,453.30H77.45M70.15,432.00H77.45M73.80,410.70H77.45M70.15,389.40H77.45M73.80,368.10H77.45M309.49,517.20H316.79M309.49,502.98H313.14M309.49,488.76H316.79M309.49,474.54H313.14M309.49,460.32H316.79M309.49,446.10H313.14M309.49,431.88H316.79M309.49,417.66H313.14M309.49,403.44H316.79M309.49,389.22H313.14M309.49,375.00H316.79M309.49,360.78H313.14"/>
</g>
<g stroke="#303030" stroke-width="0.88" fill="none">
<path d="M406.13,17.0V527.2M638.18,17.0V527.2M398.83,27.0H645.47M398.83,190.4H645.47M398.83,353.8H645.47M398.83,517.2H645.47M406.13,17.0V27.0M406.13,180.4V200.4M406.13,343.8V363.8M406.13,517.2V527.2M413.38,22.0V27.0M413.38,185.4V195.4M413.38,348.8V358.8M413.38,517.2V522.2M420.63,22.0V27.0M420.63,185.4V195.4M420.63,348.8V358.8M420.63,517.2V522.2M427.89,22.0V27.0M427.89,185.4V195.4M427.89,348.8V358.8M427.89,517.2V522.2M435.14,17.0V27.0M435.14,180.4V200.4M435.14,343.8V363.8M435.14,517.2V527.2M442.39,22.0V27.0M442.39,185.4V195.4M442.39,348.8V358.8M442.39,517.2V522.2M449.64,22.0V27.0M449.64,185.4V195.4M449.64,348.8V358.8M449.64,517.2V522.2M456.89,22.0V27.0M456.89,185.4V195.4M456.89,348.8V358.8M456.89,517.2V522.2M464.14,17.0V27.0M464.14,180.4V200.4M464.14,343.8V363.8M464.14,517.2V527.2M471.39,22.0V27.0M471.39,185.4V195.4M471.39,348.8V358.8M471.39,517.2V522.2M478.65,22.0V27.0M478.65,185.4V195.4M478.65,348.8V358.8M478.65,517.2V522.2M485.90,22.0V27.0M485.90,185.4V195.4M485.90,348.8V358.8M485.90,517.2V522.2M493.15,17.0V27.0M493.15,180.4V200.4M493.15,343.8V363.8M493.15,517.2V527.2M500.40,22.0V27.0M500.40,185.4V195.4M500.40,348.8V358.8M500.40,517.2V522.2M507.65,22.0V27.0M507.65,185.4V195.4M507.65,348.8V358.8M507.65,517.2V522.2M514.90,22.0V27.0M514.90,185.4V195.4M514.90,348.8V358.8M514.90,517.2V522.2M522.15,17.0V27.0M522.15,180.4V200.4M522.15,343.8V363.8M522.15,517.2V527.2M529.40,22.0V27.0M529.40,185.4V195.4M529.40,348.8V358.8M529.40,517.2V522.2M536.66,22.0V27.0M536.66,185.4V195.4M536.66,348.8V358.8M536.66,517.2V522.2M543.91,22.0V27.0M543.91,185.4V195.4M543.91,348.8V358.8M543.91,517.2V522.2M551.16,17.0V27.0M551.16,180.4V200.4M551.16,343.8V363.8M551.16,517.2V527.2M558.41,22.0V27.0M558.41,185.4V195.4M558.41,348.8V358.8M558.41,517.2V522.2M565.66,22.0V27.0M565.66,185.4V195.4M565.66,348.8V358.8M565.66,517.2V522.2M572.91,22.0V27.0M572.91,185.4V195.4M572.91,348.8V358.8M572.91,517.2V522.2M580.16,17.0V27.0M580.16,180.4V200.4M580.16,343.8V363.8M580.16,517.2V527.2M587.42,22.0V27.0M587.42,185.4V195.4M587.42,348.8V358.8M587.42,517.2V522.2M594.67,22.0V27.0M594.67,185.4V195.4M594.67,348.8V358.8M594.67,517.2V522.2M601.92,22.0V27.0M601.92,185.4V195.4M601.92,348.8V358.8M601.92,517.2V522.2M609.17,17.0V27.0M609.17,180.4V200.4M609.17,343.8V363.8M609.17,517.2V527.2M616.42,22.0V27.0M616.42,185.4V195.4M616.42,348.8V358.8M616.42,517.2V522.2M623.67,22.0V27.0M623.67,185.4V195.4M623.67,348.8V358.8M623.67,517.2V522.2M630.92,22.0V27.0M630.92,185.4V195.4M630.92,348.8V358.8M630.92,517.2V522.2M638.18,17.0V27.0M638.18,180.4V200.4M638.18,343.8V363.8M638.18,517.2V527.2M398.83,190.40H406.13M402.48,174.06H406.13M398.83,157.72H406.13M402.48,141.38H406.13M398.83,125.04H406.13M402.48,108.70H406.13M398.83,92.36H406.13M402.48,76.02H406.13M398.83,59.68H406.13M402.48,43.34H406.13M398.83,27.00H406.13M638.18,190.40H645.47M638.18,174.06H641.82M638.18,157.72H645.47M638.18,141.38H641.82M638.18,125.04H645.47M638.18,108.70H641.82M638.18,92.36H645.47M638.18,76.02H641.82M638.18,59.68H645.47M638.18,43.34H641.82M638.18,27.00H645.47M398.83,353.80H406.13M402.48,330.55H406.13M398.83,307.30H406.13M402.48,284.05H406.13M398.83,260.80H406.13M402.48,237.55H406.13M398.83,214.30H406.13M402.48,191.05H406.13M638.18,353.80H645.47M638.18,330.55H641.82M638.18,307.30H645.47M638.18,284.05H641.82M638.18,260.80H645.47M638.18,237.55H641.82M638.18,214.30H645.47M638.18,191.05H641.82M398.83,517.20H406.13M402.48,493.95H406.13M398.83,470.70H406.13M402.48,447.45H406.13M398.83,424.20H406.13M402.48,400.95H406.13M398.83,377.70H406.13M402.48,354.45H406.13M638.18,517.20H645.47M638.18,493.95H641.82M638.18,470.70H645.47M638.18,447.45H641.82M638.18,424.20H645.47M638.18,400.95H641.82M638.18,377.70H645.47M638.18,354.45H641.82"/>
</g>
<rect x="272.26" y="29.8" width="31.46" height="9.2" fill="#ffa000"/>
<path d="M275.40,35.90L276.79,33.20L279.05,33.20L277.66,35.90ZM280.31,35.90L281.70,33.20L283.96,33.20L282.58,35.90ZM285.23,35.90L286.61,33.20L288.88,33.20L287.49,35.90ZM290.14,35.90L291.53,33.20L293.79,33.20L292.40,35.90ZM295.05,35.90L296.44,33.20L298.70,33.20L297.31,35.90ZM299.93,35.90L301.31,33.40L301.31,35.90Z" fill="#fff" stroke="none"/>
<path d="M273.80,48.30L302.41,48.30" stroke="#00ffff" stroke-width="4"/>
<path d="M273.80,62.80L302.41,62.80" stroke="#000" stroke-width="3.1"/>
<path d="M273.80,77.10L302.41,77.10" stroke="#0000ff" stroke-width="2.9" stroke-dasharray="5.8,7.9"/>
<rect x="263.14" y="202.2" width="39.64" height="6.7" fill="url(#gh2)" stroke="#00ff00" stroke-width="0.9"/>
<rect x="263.14" y="214.3" width="39.56" height="6.4" fill="#fff" stroke="#ff0000" stroke-width="0.65"/>
<rect x="263.14" y="214.3" width="39.56" height="6.4" fill="url(#rh)" stroke="none"/>
</g>
<g font-family="Liberation Serif, serif" fill="#000" text-rendering="geometricPrecision" style="filter:grayscale(1)">
<text transform="translate(87.0,194.7) scale(1.290,1)" font-size="12.8" text-anchor="end" font-weight="normal" >0</text>
<text transform="translate(87.0,167.5) scale(1.290,1)" font-size="12.8" text-anchor="end" font-weight="normal" >0.1</text>
<text transform="translate(87.0,140.2) scale(1.290,1)" font-size="12.8" text-anchor="end" font-weight="normal" >0.2</text>
<text transform="translate(87.0,113.0) scale(1.290,1)" font-size="12.8" text-anchor="end" font-weight="normal" >0.3</text>
<text transform="translate(87.0,85.8) scale(1.290,1)" font-size="12.8" text-anchor="end" font-weight="normal" >0.4</text>
<text transform="translate(87.0,58.5) scale(1.290,1)" font-size="12.8" text-anchor="end" font-weight="normal" >0.5</text>
<text transform="translate(87.0,31.3) scale(1.290,1)" font-size="12.8" text-anchor="end" font-weight="normal" >0.6</text>
<text transform="translate(87.0,358.1) scale(1.290,1)" font-size="12.8" text-anchor="end" font-weight="normal" >0</text>
<text transform="translate(87.0,321.8) scale(1.290,1)" font-size="12.8" text-anchor="end" font-weight="normal" >0.2</text>
<text transform="translate(87.0,285.5) scale(1.290,1)" font-size="12.8" text-anchor="end" font-weight="normal" >0.4</text>
<text transform="translate(87.0,249.2) scale(1.290,1)" font-size="12.8" text-anchor="end" font-weight="normal" >0.6</text>
<text transform="translate(87.0,212.9) scale(1.290,1)" font-size="12.8" text-anchor="end" font-weight="normal" >0.8</text>
<text transform="translate(87.0,521.5) scale(1.290,1)" font-size="12.8" text-anchor="end" font-weight="normal" >0</text>
<text transform="translate(87.0,478.9) scale(1.290,1)" font-size="12.8" text-anchor="end" font-weight="normal" >0.3</text>
<text transform="translate(87.0,436.3) scale(1.290,1)" font-size="12.8" text-anchor="end" font-weight="normal" >0.6</text>
<text transform="translate(87.0,393.7) scale(1.290,1)" font-size="12.8" text-anchor="end" font-weight="normal" >0.9</text>
<text transform="translate(537.0,194.7) scale(1.290,1)" font-size="12.8" text-anchor="end" font-weight="normal" >0</text>
<text transform="translate(537.0,162.0) scale(1.290,1)" font-size="12.8" text-anchor="end" font-weight="normal" >0.007</text>
<text transform="translate(537.0,129.3) scale(1.290,1)" font-size="12.8" text-anchor="end" font-weight="normal" >0.014</text>
<text transform="translate(537.0,96.7) scale(1.290,1)" font-size="12.8" text-anchor="end" font-weight="normal" >0.021</text>
<text transform="translate(537.0,64.0) scale(1.290,1)" font-size="12.8" text-anchor="end" font-weight="normal" >0.028</text>
<text transform="translate(537.0,31.3) scale(1.290,1)" font-size="12.8" text-anchor="end" font-weight="normal" >0.035</text>
<text transform="translate(537.0,358.1) scale(1.290,1)" font-size="12.8" text-anchor="end" font-weight="normal" >0</text>
<text transform="translate(537.0,311.6) scale(1.290,1)" font-size="12.8" text-anchor="end" font-weight="normal" >0.1</text>
<text transform="translate(537.0,265.1) scale(1.290,1)" font-size="12.8" text-anchor="end" font-weight="normal" >0.2</text>
<text transform="translate(537.0,218.6) scale(1.290,1)" font-size="12.8" text-anchor="end" font-weight="normal" >0.3</text>
<text transform="translate(537.0,521.5) scale(1.290,1)" font-size="12.8" text-anchor="end" font-weight="normal" >0</text>
<text transform="translate(537.0,475.0) scale(1.290,1)" font-size="12.8" text-anchor="end" font-weight="normal" >0.1</text>
<text transform="translate(537.0,428.5) scale(1.290,1)" font-size="12.8" text-anchor="end" font-weight="normal" >0.2</text>
<text transform="translate(537.0,382.0) scale(1.290,1)" font-size="12.8" text-anchor="end" font-weight="normal" >0.3</text>
<text transform="translate(107.9,543.8) scale(1.290,1)" font-size="12.8" text-anchor="middle" font-weight="normal" >0.4</text>
<text transform="translate(147.7,543.8) scale(1.290,1)" font-size="12.8" text-anchor="middle" font-weight="normal" >0.6</text>
<text transform="translate(187.4,543.8) scale(1.290,1)" font-size="12.8" text-anchor="middle" font-weight="normal" >0.8</text>
<text transform="translate(227.2,543.8) scale(1.290,1)" font-size="12.8" text-anchor="middle" font-weight="normal" >1</text>
<text transform="translate(266.9,543.8) scale(1.290,1)" font-size="12.8" text-anchor="middle" font-weight="normal" >1.2</text>
<text transform="translate(306.7,543.8) scale(1.290,1)" font-size="12.8" text-anchor="middle" font-weight="normal" >1.4</text>
<text transform="translate(346.4,543.8) scale(1.290,1)" font-size="12.8" text-anchor="middle" font-weight="normal" >1.6</text>
<text transform="translate(386.2,543.8) scale(1.290,1)" font-size="12.8" text-anchor="middle" font-weight="normal" >1.8</text>
<text transform="translate(425.9,543.8) scale(1.290,1)" font-size="12.8" text-anchor="middle" font-weight="normal" >2</text>
<text transform="translate(558.2,543.8) scale(1.290,1)" font-size="12.8" text-anchor="middle" font-weight="normal" >0.4</text>
<text transform="translate(597.9,543.8) scale(1.290,1)" font-size="12.8" text-anchor="middle" font-weight="normal" >0.6</text>
<text transform="translate(637.7,543.8) scale(1.290,1)" font-size="12.8" text-anchor="middle" font-weight="normal" >0.8</text>
<text transform="translate(677.4,543.8) scale(1.290,1)" font-size="12.8" text-anchor="middle" font-weight="normal" >1</text>
<text transform="translate(717.2,543.8) scale(1.290,1)" font-size="12.8" text-anchor="middle" font-weight="normal" >1.2</text>
<text transform="translate(756.9,543.8) scale(1.290,1)" font-size="12.8" text-anchor="middle" font-weight="normal" >1.4</text>
<text transform="translate(796.7,543.8) scale(1.290,1)" font-size="12.8" text-anchor="middle" font-weight="normal" >1.6</text>
<text transform="translate(836.4,543.8) scale(1.290,1)" font-size="12.8" text-anchor="middle" font-weight="normal" >1.8</text>
<text transform="translate(876.2,543.8) scale(1.290,1)" font-size="12.8" text-anchor="middle" font-weight="normal" >2</text>
<text transform="translate(261.0,560.2) scale(1.290,1)" font-size="11.6" text-anchor="middle" font-weight="bold" >T/T</text>
<g transform="translate(273.90,563.40) rotate(0) scale(12.200,12.200)" fill="none" stroke="#000" stroke-linecap="round" stroke-linejoin="round"><path d="M0.07,-0.375C0.10,-0.44 0.16,-0.41 0.19,-0.33L0.36,0.08C0.39,0.17 0.44,0.215 0.49,0.19C0.53,0.17 0.54,0.11 0.533,0.07" stroke-width="0.065"/><path d="M0.48,-0.426L0.086,0.192" stroke-width="0.111"/><circle cx="0.075" cy="-0.37" r="0.065" fill="#000" stroke="none"/><circle cx="0.525" cy="0.085" r="0.058" fill="#000" stroke="none"/></g>
<text transform="translate(711.5,560.2) scale(1.290,1)" font-size="11.6" text-anchor="middle" font-weight="bold" >T/T</text>
<g transform="translate(724.40,563.40) rotate(0) scale(12.200,12.200)" fill="none" stroke="#000" stroke-linecap="round" stroke-linejoin="round"><path d="M0.07,-0.375C0.10,-0.44 0.16,-0.41 0.19,-0.33L0.36,0.08C0.39,0.17 0.44,0.215 0.49,0.19C0.53,0.17 0.54,0.11 0.533,0.07" stroke-width="0.065"/><path d="M0.48,-0.426L0.086,0.192" stroke-width="0.111"/><circle cx="0.075" cy="-0.37" r="0.065" fill="#000" stroke="none"/><circle cx="0.525" cy="0.085" r="0.058" fill="#000" stroke="none"/></g>
<text transform="translate(145.5,112.9) scale(1.370,1)" font-size="12.1" text-anchor="start" font-weight="bold" >(a)</text>
<text transform="translate(145.5,267.0) scale(1.370,1)" font-size="12.1" text-anchor="start" font-weight="bold" >(b)</text>
<text transform="translate(145.5,422.2) scale(1.370,1)" font-size="12.1" text-anchor="start" font-weight="bold" >(c)</text>
<text transform="translate(596.0,101.0) scale(1.370,1)" font-size="12.1" text-anchor="start" font-weight="bold" >(d)</text>
<text transform="translate(596.0,264.6) scale(1.370,1)" font-size="12.1" text-anchor="start" font-weight="bold" >(e)</text>
<text transform="translate(596.0,400.0) scale(1.370,1)" font-size="12.1" text-anchor="start" font-weight="bold" >(f)</text>
<text transform="translate(365.0,38.0) scale(1.370,1)" font-size="11.8" text-anchor="end" font-weight="normal" >HOTQCD: PRD <tspan font-weight="bold">86</tspan>, 034509 (2012)</text>
<text transform="translate(365.0,52.4) scale(1.370,1)" font-size="11.8" text-anchor="end" font-weight="normal" >LQCD: PRD <tspan font-weight="bold">95</tspan>, 054504 (2017)</text>
<text transform="translate(365.0,66.8) scale(1.370,1)" font-size="11.8" text-anchor="end" font-weight="normal" >Polyakov-loop pot. I</text>
<text transform="translate(365.0,80.6) scale(1.370,1)" font-size="11.8" text-anchor="end" font-weight="normal" >Polyakov-loop pot. II</text>
<text transform="translate(350.0,209.5) scale(1.358,1)" font-size="11.8" text-anchor="end" font-weight="normal" ><tspan stroke="#000" stroke-width="0.22">WB Group: JHEP</tspan> <tspan font-weight="bold">1201</tspan>, 138 (2012)</text>
<text transform="translate(350.0,221.4) scale(1.358,1)" font-size="11.8" text-anchor="end" font-weight="normal" >HOTQCD:PRD 104, 074512&#160; (2021)</text>
<g transform="translate(47.70,117.90) rotate(-90) scale(11.800,17.582)" fill="none" stroke="#000" stroke-linecap="round" stroke-linejoin="round"><path d="M0.07,-0.375C0.10,-0.44 0.16,-0.41 0.19,-0.33L0.36,0.08C0.39,0.17 0.44,0.215 0.49,0.19C0.53,0.17 0.54,0.11 0.533,0.07" stroke-width="0.050"/><path d="M0.48,-0.426L0.086,0.192" stroke-width="0.085"/><circle cx="0.075" cy="-0.37" r="0.050" fill="#000" stroke="none"/><circle cx="0.525" cy="0.085" r="0.045" fill="#000" stroke="none"/></g>
<text transform="translate(53.0,111.5) rotate(-90) scale(1,1.33)" font-size="9.6" stroke="#000" stroke-width="0.12">2</text>
<text transform="translate(39.7,106.3) rotate(-90) scale(1,1.42)" font-size="9.4" stroke="#000" stroke-width="0.12">B</text>
<g transform="translate(47.70,281.70) rotate(-90) scale(11.800,17.582)" fill="none" stroke="#000" stroke-linecap="round" stroke-linejoin="round"><path d="M0.07,-0.375C0.10,-0.44 0.16,-0.41 0.19,-0.33L0.36,0.08C0.39,0.17 0.44,0.215 0.49,0.19C0.53,0.17 0.54,0.11 0.533,0.07" stroke-width="0.050"/><path d="M0.48,-0.426L0.086,0.192" stroke-width="0.085"/><circle cx="0.075" cy="-0.37" r="0.050" fill="#000" stroke="none"/><circle cx="0.525" cy="0.085" r="0.045" fill="#000" stroke="none"/></g>
<text transform="translate(53.0,275.3) rotate(-90) scale(1,1.33)" font-size="9.6" stroke="#000" stroke-width="0.12">2</text>
<text transform="translate(39.7,269.8) rotate(-90) scale(1,1.42)" font-size="9.4" stroke="#000" stroke-width="0.12">Q</text>
<g transform="translate(47.70,444.10) rotate(-90) scale(11.800,17.582)" fill="none" stroke="#000" stroke-linecap="round" stroke-linejoin="round"><path d="M0.07,-0.375C0.10,-0.44 0.16,-0.41 0.19,-0.33L0.36,0.08C0.39,0.17 0.44,0.215 0.49,0.19C0.53,0.17 0.54,0.11 0.533,0.07" stroke-width="0.050"/><path d="M0.48,-0.426L0.086,0.192" stroke-width="0.085"/><circle cx="0.075" cy="-0.37" r="0.050" fill="#000" stroke="none"/><circle cx="0.525" cy="0.085" r="0.045" fill="#000" stroke="none"/></g>
<text transform="translate(53.0,437.7) rotate(-90) scale(1,1.33)" font-size="9.6" stroke="#000" stroke-width="0.12">2</text>
<text transform="translate(39.7,432.7) rotate(-90) scale(1,1.42)" font-size="9.4" stroke="#000" stroke-width="0.12">S</text>
<g transform="translate(478.30,123.80) rotate(-90) scale(11.800,17.582)" fill="none" stroke="#000" stroke-linecap="round" stroke-linejoin="round"><path d="M0.07,-0.375C0.10,-0.44 0.16,-0.41 0.19,-0.33L0.36,0.08C0.39,0.17 0.44,0.215 0.49,0.19C0.53,0.17 0.54,0.11 0.533,0.07" stroke-width="0.050"/><path d="M0.48,-0.426L0.086,0.192" stroke-width="0.085"/><circle cx="0.075" cy="-0.37" r="0.050" fill="#000" stroke="none"/><circle cx="0.525" cy="0.085" r="0.045" fill="#000" stroke="none"/></g>
<text transform="translate(484.1,117.4) rotate(-90) scale(1,1.33)" font-size="9.6" stroke="#000" stroke-width="0.12">11</text>
<text transform="translate(470.7,107.0) rotate(-90) scale(1,1.42)" font-size="9.4" stroke="#000" stroke-width="0.12">BQ</text>
<g transform="translate(478.30,286.80) rotate(-90) scale(11.800,17.582)" fill="none" stroke="#000" stroke-linecap="round" stroke-linejoin="round"><path d="M0.07,-0.375C0.10,-0.44 0.16,-0.41 0.19,-0.33L0.36,0.08C0.39,0.17 0.44,0.215 0.49,0.19C0.53,0.17 0.54,0.11 0.533,0.07" stroke-width="0.050"/><path d="M0.48,-0.426L0.086,0.192" stroke-width="0.085"/><circle cx="0.075" cy="-0.37" r="0.050" fill="#000" stroke="none"/><circle cx="0.525" cy="0.085" r="0.045" fill="#000" stroke="none"/></g>
<text transform="translate(484.1,280.4) rotate(-90) scale(1,1.33)" font-size="9.6" stroke="#000" stroke-width="0.12">11</text>
<text transform="translate(470.7,270.4) rotate(-90) scale(1,1.42)" font-size="9.4" stroke="#000" stroke-width="0.12">QS</text>
<g transform="translate(488.10,446.40) rotate(-90) scale(11.800,17.582)" fill="none" stroke="#000" stroke-linecap="round" stroke-linejoin="round"><path d="M0.07,-0.375C0.10,-0.44 0.16,-0.41 0.19,-0.33L0.36,0.08C0.39,0.17 0.44,0.215 0.49,0.19C0.53,0.17 0.54,0.11 0.533,0.07" stroke-width="0.050"/><path d="M0.48,-0.426L0.086,0.192" stroke-width="0.085"/><circle cx="0.075" cy="-0.37" r="0.050" fill="#000" stroke="none"/><circle cx="0.525" cy="0.085" r="0.045" fill="#000" stroke="none"/></g>
<text transform="translate(493.9,439.8) rotate(-90) scale(1,1.33)" font-size="9.6" stroke="#000" stroke-width="0.12">11</text>
<text transform="translate(480.9,430.1) rotate(-90) scale(1,1.42)" font-size="9.4" stroke="#000" stroke-width="0.12">BS</text>
<text transform="translate(488.9,452.7) rotate(-90) scale(1,1.33)" font-size="13.3" >-</text>
</g>
</svg>
</body></html>
